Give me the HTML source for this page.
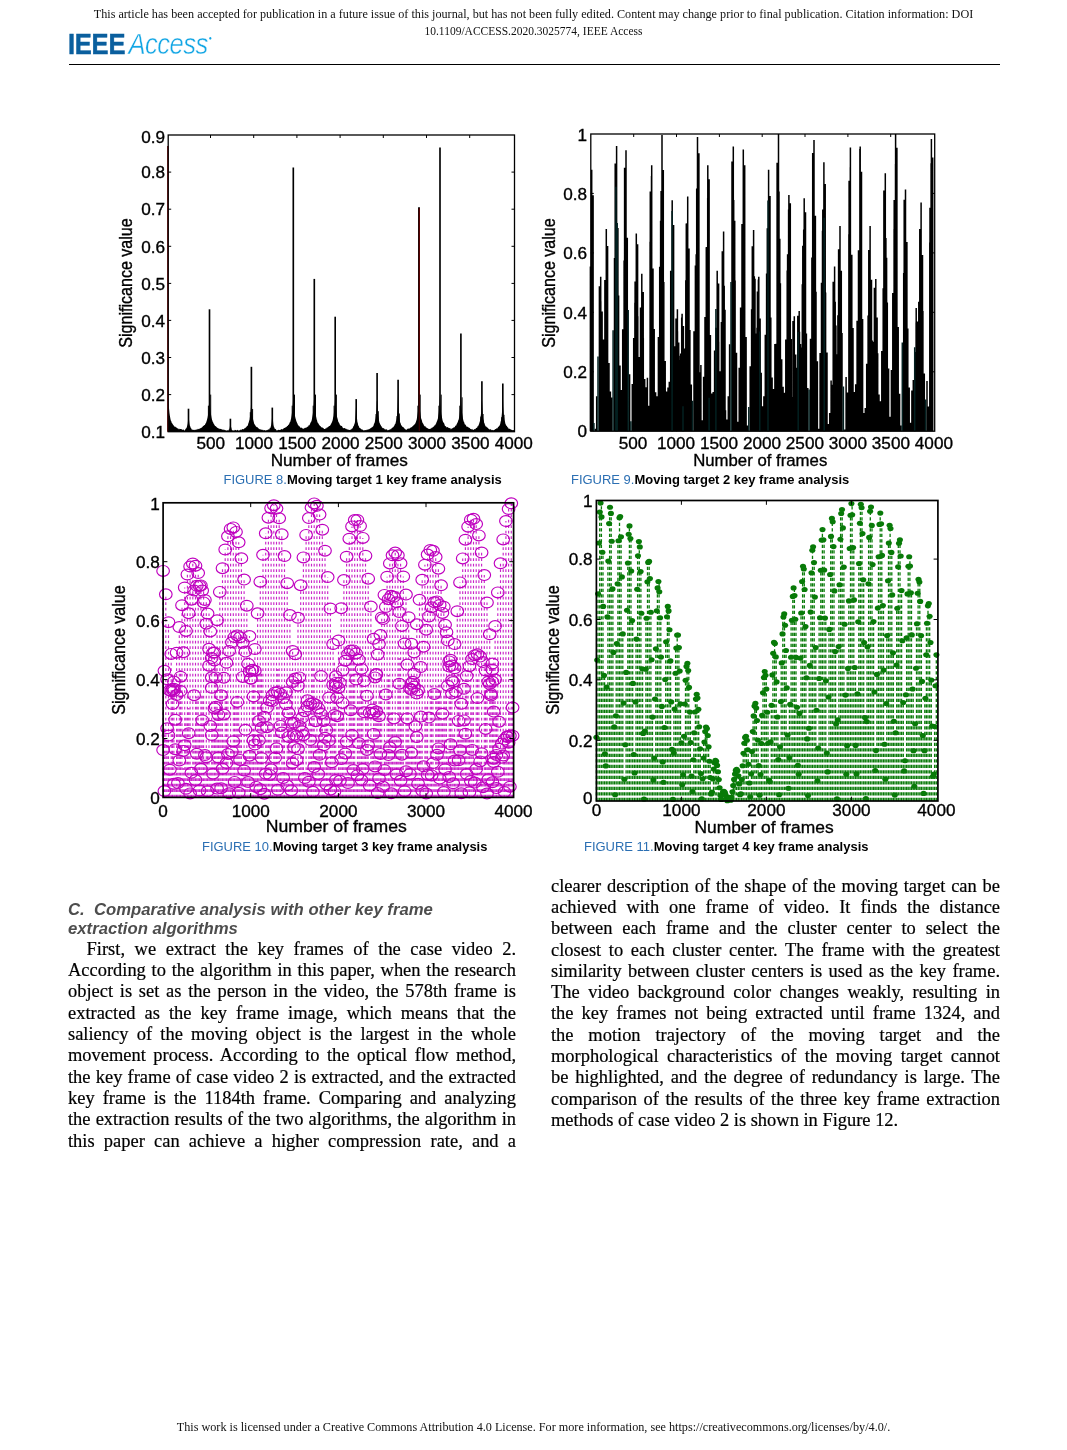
<!DOCTYPE html>
<html lang="en"><head><meta charset="utf-8"><title>IEEE Access</title>
<style>
html,body{margin:0;padding:0;background:#fff;}
body{width:1067px;height:1450px;position:relative;overflow:hidden;font-family:"Liberation Serif",serif;color:#000;}
.abs{position:absolute;white-space:nowrap;}
.hd{position:absolute;left:0;width:1067px;text-align:center;font-size:12.18px;line-height:14px;white-space:nowrap;color:#111;}
.bl{position:absolute;font-size:18.45px;line-height:21.2px;height:21.2px;white-space:nowrap;color:#000;-webkit-text-stroke:0.2px #000;}
.j{text-align:justify;text-align-last:justify;white-space:normal;}
.sec{position:absolute;left:68px;font:italic bold 16.72px/19.4px "Liberation Sans",sans-serif;color:#4d4d4d;white-space:nowrap;}
.cap{position:absolute;font:12.97px/15px "Liberation Sans",sans-serif;color:#2b6fb3;white-space:nowrap;}
.cap b{color:#000;}
svg text{font-family:"Liberation Sans",sans-serif;fill:#000;stroke:#000;stroke-width:0.32px;}
</style></head><body>
<div class="hd" style="top:6.5px;">This article has been accepted for publication in a future issue of this journal, but has not been fully edited. Content may change prior to final publication. Citation information: DOI</div>
<div class="hd" style="top:24px;font-size:11.5px;">10.1109/ACCESS.2020.3025774, IEEE Access</div>
<div class="abs" id="logo" style="left:67.6px;top:27.3px;font-family:'Liberation Sans',sans-serif;font-size:29.7px;line-height:34px;transform:scaleX(0.86);transform-origin:0 0;"><b style="color:#0a5f9e;-webkit-text-stroke:0.5px #0a5f9e;letter-spacing:-0.3px;">IEEE</b><i style="font-weight:normal;color:#10a5e4;margin-left:4px;letter-spacing:-0.6px;-webkit-text-stroke:0.45px #fff;">Access</i><span style="color:#10a5e4;font-size:6px;position:relative;top:-14px;left:1px;">&#9679;</span></div>
<div class="abs" style="left:69px;top:63.7px;width:931px;height:1.3px;background:#000;"></div>
<svg class="abs" style="left:0;top:0;" width="1067" height="870" viewBox="0 0 1067 870">
<path d="M168.2 431.7L168.2 392.5L168.6 402.9L169.1 409.3L169.5 413.2L169.9 416.1L170.4 418.8L170.8 420.6L171.2 421L171.7 422.7L172.1 423.6L172.5 423.5L173 424.8L173.4 424.9L173.8 425.8L174.3 426L174.7 427L175.1 426.8L175.6 426.8L176 427.5L176.4 427.5L176.9 427.8L177.3 428.7L177.7 428.1L178.2 428.5L178.6 429L179 429.4L179.5 428.6L179.9 429.2L180.3 429L180.8 429L181.2 429.3L181.6 429.1L182.1 429.8L182.5 429.5L182.9 430L183.4 429.5L183.8 429.6L184.2 430.6L184.6 430.4L185.1 429.9L185.5 428.7L185.9 428.8L186.4 427.9L186.8 427.3L187.2 425.8L187.7 423.8L188.1 419.9L188.5 409.9L189 419.6L189.4 423.2L189.8 425.6L190.3 426.6L190.7 427.7L191.1 428.2L191.6 429L192 430L192.4 429.6L192.9 429.7L193.3 429.7L193.7 430L194.2 429.8L194.6 430.2L195 429.5L195.5 429.7L195.9 429.9L196.3 430L196.8 429.1L197.2 428.8L197.6 429.7L198.1 428.8L198.5 429L198.9 429.2L199.4 428.9L199.8 428.2L200.2 427.9L200.7 428.6L201.1 427.7L201.5 428.1L202 427.1L202.4 427.2L202.8 426.3L203.3 425.8L203.7 425.9L204.1 424.9L204.6 425.2L205 424.8L205.4 423.5L205.9 423.3L206.3 422.1L206.7 420.7L207.2 418.9L207.6 417.5L208 415.1L208.5 410.6L208.9 406L209.3 396.8L209.8 399L210.2 407.2L210.6 411.9L211.1 415.1L211.5 417.4L211.9 419.3L212.4 420.8L212.8 421.9L213.2 422.5L213.7 423.8L214.1 424.6L214.5 424.8L215 425.9L215.4 426.3L215.8 425.9L216.2 426.8L216.7 427.1L217.1 427.9L217.5 427.8L218 427.8L218.4 428.7L218.8 428.2L219.3 428.4L219.7 429.2L220.1 428.7L220.6 429L221 428.9L221.4 429.4L221.9 429.1L222.3 429.2L222.7 430.1L223.2 430.2L223.6 429.6L224 429.3L224.5 430.2L224.9 430.1L225.3 430L225.8 430.4L226.2 430.4L226.6 430.4L227.1 430.4L227.5 430.1L227.9 430.4L228.4 430.4L228.8 429.6L229.2 429.6L229.7 427.7L230.1 424.9L230.5 422.1L231 426.8L231.4 428.1L231.8 429.7L232.3 430.4L232.7 430.3L233.1 430L233.6 430.7L234 430.4L234.4 430.4L234.9 429.8L235.3 430.3L235.7 429.8L236.2 430.6L236.6 430.4L237 430L237.5 429.8L237.9 430.3L238.3 430.5L238.8 430.6L239.2 430.2L239.6 430.5L240.1 429.7L240.5 429.6L240.9 430.2L241.4 429.9L241.8 429.2L242.2 429.2L242.7 428.9L243.1 429.2L243.5 429.3L244 428.9L244.4 428.1L244.8 428.4L245.3 428L245.7 427.6L246.1 427.2L246.6 426.8L247 425.7L247.4 425.9L247.8 425.4L248.3 423.5L248.7 422.4L249.1 420.9L249.6 419.7L250 416.6L250.4 412.8L250.9 407.6L251.3 395.6L251.7 403.3L252.2 411.1L252.6 415.7L253 418.9L253.5 421L253.9 422.6L254.3 424L254.8 424.4L255.2 425.5L255.6 425.6L256.1 427L256.5 426.5L256.9 427.2L257.4 427.2L257.8 427.6L258.2 427.9L258.7 428.5L259.1 429.3L259.5 428.7L260 429.5L260.4 429.6L260.8 429.3L261.3 429.6L261.7 429.9L262.1 429.4L262.6 429.9L263 430.3L263.4 430.5L263.9 429.8L264.3 430.2L264.7 429.9L265.2 430.4L265.6 430.6L266 430.2L266.5 429.9L266.9 430.6L267.3 429.9L267.8 429.7L268.2 429.6L268.6 429.3L269.1 429.8L269.5 428.7L269.9 427.8L270.4 427.9L270.8 426.5L271.2 424.9L271.7 421.8L272.1 416.2L272.5 414.3L273 420.7L273.4 424.7L273.8 426.5L274.3 427.6L274.7 428.5L275.1 429.2L275.6 428.7L276 429.2L276.4 430.4L276.9 430.2L277.3 430.3L277.7 430.3L278.2 430.1L278.6 429.7L279 429.7L279.4 429.9L279.9 430L280.3 429.7L280.7 429.8L281.2 429.2L281.6 428.9L282 429.2L282.5 429.4L282.9 429.1L283.3 428.7L283.8 428.3L284.2 427.9L284.6 428.1L285.1 427.4L285.5 427.4L285.9 427.3L286.4 427.1L286.8 426.6L287.2 426L287.7 425.9L288.1 425.1L288.5 424.8L289 424.4L289.4 423.3L289.8 422.2L290.3 421.8L290.7 420.1L291.1 418.4L291.6 415.8L292 412.8L292.4 409.3L292.9 402.5L293.3 391.9L293.7 403.2L294.2 409.2L294.6 413.7L295 415.9L295.5 418.2L295.9 419.6L296.3 421L296.8 422.2L297.2 423.1L297.6 424L298.1 425.2L298.5 425.2L298.9 426.3L299.4 426.6L299.8 426.3L300.2 427.4L300.7 427.7L301.1 428L301.5 427.3L302 428.3L302.4 428.7L302.8 428L303.3 429L303.7 428.4L304.1 428.4L304.6 428.1L305 427.8L305.4 428L305.9 427.5L306.3 428.1L306.7 427L307.2 427L307.6 426.5L308 426.8L308.5 425.7L308.9 425L309.3 425.4L309.8 424.5L310.2 423.6L310.6 422.4L311 422.1L311.5 420.9L311.9 419.3L312.3 417L312.8 414.3L313.2 411.1L313.6 405.9L314.1 397.4L314.5 399.6L314.9 407.1L315.4 412.3L315.8 415.1L316.2 417L316.7 419.5L317.1 420.6L317.5 422.4L318 422.8L318.4 423.5L318.8 424.3L319.3 425L319.7 425.6L320.1 425.9L320.6 426L321 427.2L321.4 427.6L321.9 427.1L322.3 427.2L322.7 427.9L323.2 428.2L323.6 428.1L324 428.9L324.5 428.9L324.9 429L325.3 428.4L325.8 428.6L326.2 428.5L326.6 427.7L327.1 427.2L327.5 427.7L327.9 426.9L328.4 427L328.8 426.1L329.2 426L329.7 425.9L330.1 425.5L330.5 425.1L331 424L331.4 423.3L331.8 422.6L332.3 421.3L332.7 419.9L333.1 417.7L333.6 416.1L334 412.1L334.4 408.2L334.9 401.2L335.3 395L335.7 404.1L336.2 409.8L336.6 413.9L337 416.7L337.5 418.5L337.9 419.9L338.3 421.7L338.8 422.4L339.2 423L339.6 424.2L340.1 425.1L340.5 425.7L340.9 425.6L341.4 426.1L341.8 426.1L342.2 426.6L342.6 427.6L343.1 427.9L343.5 428.1L343.9 428.4L344.4 428L344.8 428L345.2 428.2L345.7 429L346.1 428.5L346.5 429.3L347 429.3L347.4 429.1L347.8 429.9L348.3 430L348.7 429.3L349.1 430L349.6 430L350 429.7L350.4 429.4L350.9 429.9L351.3 429.3L351.7 428.8L352.2 428.4L352.6 428.2L353 427.2L353.5 426L353.9 425.7L354.3 424.2L354.8 422.9L355.2 419.9L355.6 414.5L356.1 404.6L356.5 411.1L356.9 417.6L357.4 421.9L357.8 423.1L358.2 425.3L358.7 425.9L359.1 426.7L359.5 427.9L360 428L360.4 428.4L360.8 428.6L361.3 429.5L361.7 429.2L362.1 429.2L362.6 429.8L363 430.1L363.4 430.6L363.9 430.2L364.3 430.4L364.7 430L365.2 430L365.6 430.1L366 430.5L366.5 429.8L366.9 429.7L367.3 430.1L367.8 429.2L368.2 429.3L368.6 429.7L369.1 428.6L369.5 429.3L369.9 428.9L370.4 428.2L370.8 428.1L371.2 427.8L371.7 427.4L372.1 427.2L372.5 426.9L372.9 426.5L373.4 425.9L373.8 424.4L374.2 423.4L374.7 422.4L375.1 420.6L375.5 418.8L376 415.8L376.4 410.7L376.8 401.4L377.3 399.7L377.7 409.3L378.1 415L378.6 417.8L379 420.6L379.4 422.4L379.9 423.6L380.3 424.5L380.7 425L381.2 426.2L381.6 426.2L382 427.5L382.5 427.7L382.9 428.3L383.3 428.6L383.8 428.1L384.2 428.4L384.6 429.2L385.1 429.4L385.5 429.4L385.9 429.2L386.4 429.2L386.8 429.5L387.2 429.8L387.7 430.4L388.1 430.1L388.5 430.2L389 429.7L389.4 429.5L389.8 429.7L390.3 429.5L390.7 428.7L391.1 429.3L391.6 428.2L392 427.8L392.4 427.4L392.9 427.7L393.3 427.1L393.7 426.6L394.2 425.9L394.6 424.8L395 424.3L395.5 423.6L395.9 421.6L396.3 420.2L396.8 417.4L397.2 413.2L397.6 407.1L398.1 391.9L398.5 406.4L398.9 413.5L399.4 417.5L399.8 420.2L400.2 422.4L400.7 423.4L401.1 425L401.5 425.4L402 425.9L402.4 426.7L402.8 427.1L403.3 427.1L403.7 427.5L404.1 428.7L404.5 428.2L405 428.7L405.4 429.5L405.8 429.4L406.3 429.7L406.7 429.8L407.1 429.2L407.6 428.6L408 429.1L408.4 428.4L408.9 428.4L409.3 428.9L409.7 427.9L410.2 428L410.6 427.4L411 427.4L411.5 427.1L411.9 427.2L412.3 426.4L412.8 425.9L413.2 425.5L413.6 425.6L414.1 424.7L414.5 424.4L414.9 424.1L415.4 423.3L415.8 422.3L416.2 420.9L416.7 419.4L417.1 417.1L417.5 414.4L418 411L418.4 405.9L418.8 397.1L419.3 399.6L419.7 407.1L420.1 411.6L420.6 415.3L421 417.9L421.4 419L421.9 420.6L422.3 422.2L422.7 423.1L423.2 423.8L423.6 424.4L424 425.4L424.5 426.1L424.9 426.4L425.3 426.1L425.8 427.2L426.2 427.2L426.6 427.7L427.1 428L427.5 428.3L427.9 428.2L428.4 428.7L428.8 429L429.2 429.1L429.7 429.1L430.1 428.5L430.5 428.8L431 428.7L431.4 428L431.8 427.8L432.3 427.2L432.7 427.7L433.1 427L433.6 426.6L434 426.6L434.4 425.2L434.9 425.5L435.3 425.1L435.7 424L436.1 423.5L436.6 422.1L437 421.3L437.4 420.1L437.9 418.5L438.3 415.4L438.7 412.9L439.2 407.8L439.6 401.3L440 394.4L440.5 404.7L440.9 410.4L441.3 414.2L441.8 416.3L442.2 418.6L442.6 420.5L443.1 422L443.5 422.4L443.9 423L444.4 424.1L444.8 425.4L445.2 425.9L445.7 426.3L446.1 426.6L446.5 427.2L447 427.5L447.4 427.1L447.8 427.1L448.3 428.1L448.7 427.5L449.1 428.3L449.6 428.1L450 428.1L450.4 428.3L450.9 429.4L451.3 429L451.7 428.4L452.2 427.9L452.6 428.6L453 428.1L453.5 427.3L453.9 427.8L454.3 427.2L454.8 426.9L455.2 426.1L455.6 425.4L456.1 425.7L456.5 424.5L456.9 423.8L457.4 422.8L457.8 422.1L458.2 420.5L458.7 419.6L459.1 417.5L459.5 415.1L460 410.6L460.4 405.1L460.8 395.4L461.3 402.2L461.7 408.7L462.1 413.3L462.6 416.2L463 418.8L463.4 420.4L463.9 422.1L464.3 422.6L464.7 424.3L465.2 424.5L465.6 424.8L466 425.5L466.5 426.6L466.9 426.8L467.3 426.5L467.7 427.1L468.2 427.1L468.6 427.4L469 428.1L469.5 427.8L469.9 428.2L470.3 428.9L470.8 429L471.2 429.5L471.6 429.3L472.1 428.8L472.5 429.8L472.9 429.4L473.4 430L473.8 429.8L474.2 429L474.7 429.3L475.1 429.2L475.5 428.9L476 428L476.4 427.8L476.8 428L477.3 427.3L477.7 426L478.1 426.2L478.6 425.1L479 424.3L479.4 422.7L479.9 421.3L480.3 419L480.7 416.2L481.2 411.7L481.6 402.7L482 400L482.5 409.6L482.9 415.9L483.3 419.3L483.8 420.6L484.2 423.1L484.6 423.5L485.1 425.4L485.5 425.8L485.9 426.7L486.4 426.6L486.8 427.3L487.2 427.6L487.7 427.8L488.1 428L488.5 428.9L489 428.8L489.4 429.2L489.8 429.8L490.3 429.1L490.7 429.6L491.1 429.5L491.6 430.3L492 430L492.4 430.2L492.9 429.8L493.3 430.4L493.7 430L494.2 429.7L494.6 430L495 429.3L495.5 428.9L495.9 429L496.3 428.5L496.8 428.3L497.2 428.4L497.6 427.9L498.1 426.8L498.5 427L498.9 426.3L499.3 426L499.8 425L500.2 424L500.6 421.8L501.1 420.2L501.5 417.4L501.9 413.2L502.4 406.8L502.8 391.7L503.2 406.8L503.7 413.9L504.1 417.3L504.5 420L505 421.8L505.4 423.7L505.8 424.4L506.3 425.7L506.7 425.7L507.1 426.4L507.6 427.5L508 427.2L508.4 428.4L508.9 428.8L509.3 428.4L509.7 429.1L510.2 429.1L510.6 429.2L511 430L511.5 429.4L511.9 430.1L512.3 430L512.8 430.2L513.2 429.9L513.6 429.9L514.1 430.5L514.5 430.7L514.5 431.7Z" fill="#000"/>
<line x1="167.9" y1="431.7" x2="167.9" y2="146.1" stroke="#7a0000" stroke-width="1.5"/>
<line x1="188.5" y1="431.7" x2="188.5" y2="408.7" stroke="#000" stroke-width="1.65"/>
<line x1="209.5" y1="431.7" x2="209.5" y2="309.3" stroke="#000" stroke-width="1.65"/>
<line x1="210.7" y1="431.7" x2="210.7" y2="394.6" stroke="#000" stroke-width="1"/>
<line x1="208.4" y1="431.7" x2="208.4" y2="405.7" stroke="#000" stroke-width="1"/>
<line x1="230.4" y1="431.7" x2="230.4" y2="418.7" stroke="#000" stroke-width="1.65"/>
<line x1="251.4" y1="431.7" x2="251.4" y2="366.8" stroke="#000" stroke-width="1.65"/>
<line x1="252.6" y1="431.7" x2="252.6" y2="409" stroke="#000" stroke-width="1"/>
<line x1="250.3" y1="431.7" x2="250.3" y2="412.2" stroke="#000" stroke-width="1"/>
<line x1="272.3" y1="431.7" x2="272.3" y2="407.6" stroke="#000" stroke-width="1.65"/>
<line x1="293.3" y1="431.7" x2="293.3" y2="167.6" stroke="#000" stroke-width="1.65"/>
<line x1="294.5" y1="431.7" x2="294.5" y2="394.6" stroke="#000" stroke-width="1"/>
<line x1="292.2" y1="431.7" x2="292.2" y2="405.7" stroke="#000" stroke-width="1"/>
<line x1="314.3" y1="431.7" x2="314.3" y2="278.9" stroke="#000" stroke-width="1.65"/>
<line x1="315.5" y1="431.7" x2="315.5" y2="394.6" stroke="#000" stroke-width="1"/>
<line x1="313.2" y1="431.7" x2="313.2" y2="405.7" stroke="#000" stroke-width="1"/>
<line x1="335.2" y1="431.7" x2="335.2" y2="316.7" stroke="#000" stroke-width="1.65"/>
<line x1="336.4" y1="431.7" x2="336.4" y2="394.6" stroke="#000" stroke-width="1"/>
<line x1="334.1" y1="431.7" x2="334.1" y2="405.7" stroke="#000" stroke-width="1"/>
<line x1="356.2" y1="431.7" x2="356.2" y2="399.1" stroke="#000" stroke-width="1.65"/>
<line x1="377.1" y1="431.7" x2="377.1" y2="373.1" stroke="#000" stroke-width="1.65"/>
<line x1="378.3" y1="431.7" x2="378.3" y2="411.2" stroke="#000" stroke-width="1"/>
<line x1="376" y1="431.7" x2="376" y2="414.1" stroke="#000" stroke-width="1"/>
<line x1="398.1" y1="431.7" x2="398.1" y2="379.8" stroke="#000" stroke-width="1.65"/>
<line x1="399.3" y1="431.7" x2="399.3" y2="413.5" stroke="#000" stroke-width="1"/>
<line x1="397" y1="431.7" x2="397" y2="416.1" stroke="#000" stroke-width="1"/>
<line x1="419" y1="431.7" x2="419" y2="207.3" stroke="#000" stroke-width="1.9"/>
<line x1="419.3" y1="431.7" x2="419.3" y2="208.3" stroke="#5c0000" stroke-width="1.3"/>
<line x1="420.2" y1="431.7" x2="420.2" y2="394.6" stroke="#000" stroke-width="1"/>
<line x1="417.9" y1="431.7" x2="417.9" y2="405.7" stroke="#000" stroke-width="1"/>
<line x1="440" y1="431.7" x2="440" y2="147.6" stroke="#000" stroke-width="1.65"/>
<line x1="441.2" y1="431.7" x2="441.2" y2="394.6" stroke="#000" stroke-width="1"/>
<line x1="438.9" y1="431.7" x2="438.9" y2="405.7" stroke="#000" stroke-width="1"/>
<line x1="460.9" y1="431.7" x2="460.9" y2="333.4" stroke="#000" stroke-width="1.65"/>
<line x1="462.1" y1="431.7" x2="462.1" y2="397.3" stroke="#000" stroke-width="1"/>
<line x1="459.8" y1="431.7" x2="459.8" y2="405.7" stroke="#000" stroke-width="1"/>
<line x1="481.9" y1="431.7" x2="481.9" y2="381.3" stroke="#000" stroke-width="1.65"/>
<line x1="483.1" y1="431.7" x2="483.1" y2="414" stroke="#000" stroke-width="1"/>
<line x1="480.8" y1="431.7" x2="480.8" y2="416.6" stroke="#000" stroke-width="1"/>
<line x1="502.8" y1="431.7" x2="502.8" y2="383.5" stroke="#000" stroke-width="1.65"/>
<line x1="504" y1="431.7" x2="504" y2="414.8" stroke="#000" stroke-width="1"/>
<line x1="501.7" y1="431.7" x2="501.7" y2="417.2" stroke="#000" stroke-width="1"/>
<rect x="168.2" y="135" width="346.3" height="296.7" fill="none" stroke="#000" stroke-width="1.3"/>
<path d="M210.5 431.7v-3M210.5 135v3M253.7 431.7v-3M253.7 135v3M296.9 431.7v-3M296.9 135v3M340.1 431.7v-3M340.1 135v3M383.3 431.7v-3M383.3 135v3M426.5 431.7v-3M426.5 135v3M469.7 431.7v-3M469.7 135v3M168.2 394.6h3M514.5 394.6h-3M168.2 357.5h3M514.5 357.5h-3M168.2 320.4h3M514.5 320.4h-3M168.2 283.4h3M514.5 283.4h-3M168.2 246.3h3M514.5 246.3h-3M168.2 209.2h3M514.5 209.2h-3M168.2 172.1h3M514.5 172.1h-3" stroke="#000" stroke-width="1" fill="none"/>
<text transform="translate(210.7 448.6) scale(1.1 1)" text-anchor="middle" font-size="15.6" >500</text>
<text transform="translate(254 448.6) scale(1.1 1)" text-anchor="middle" font-size="15.6" >1000</text>
<text transform="translate(297.3 448.6) scale(1.1 1)" text-anchor="middle" font-size="15.6" >1500</text>
<text transform="translate(340.6 448.6) scale(1.1 1)" text-anchor="middle" font-size="15.6" >2000</text>
<text transform="translate(383.8 448.6) scale(1.1 1)" text-anchor="middle" font-size="15.6" >2500</text>
<text transform="translate(427.1 448.6) scale(1.1 1)" text-anchor="middle" font-size="15.6" >3000</text>
<text transform="translate(470.4 448.6) scale(1.1 1)" text-anchor="middle" font-size="15.6" >3500</text>
<text transform="translate(513.7 448.6) scale(1.1 1)" text-anchor="middle" font-size="15.6" >4000</text>
<text transform="translate(165 437.9) scale(1.1 1)" text-anchor="end" font-size="15.6" >0.1</text>
<text transform="translate(165 400.8) scale(1.1 1)" text-anchor="end" font-size="15.6" >0.2</text>
<text transform="translate(165 363.7) scale(1.1 1)" text-anchor="end" font-size="15.6" >0.3</text>
<text transform="translate(165 326.6) scale(1.1 1)" text-anchor="end" font-size="15.6" >0.4</text>
<text transform="translate(165 289.6) scale(1.1 1)" text-anchor="end" font-size="15.6" >0.5</text>
<text transform="translate(165 252.5) scale(1.1 1)" text-anchor="end" font-size="15.6" >0.6</text>
<text transform="translate(165 215.4) scale(1.1 1)" text-anchor="end" font-size="15.6" >0.7</text>
<text transform="translate(165 178.3) scale(1.1 1)" text-anchor="end" font-size="15.6" >0.8</text>
<text transform="translate(165 142.8) scale(1.1 1)" text-anchor="end" font-size="15.6" >0.9</text>
<text transform="translate(339.2 466.2) scale(1.1 1)" text-anchor="middle" font-size="15.6" >Number of frames</text>
<text transform="translate(132 283) rotate(-90) scale(1.03 1.155)" text-anchor="middle" font-size="15.6" >Significance value</text>
<path d="M591.2 431.2V412.7M592.6 431.2V422.5M595.3 431.2V428.7M596.7 431.2V396.2M599.4 431.2V310.8M600.8 431.2V301.3M602.2 431.2V414.2M603.5 431.2V339.5M604.9 431.2V280M606.3 431.2V247.1M607.6 431.2V315.8M609 431.2V363M610.4 431.2V391.4M611.8 431.2V397.4M614.5 431.2V257.9M618.6 431.2V295.4M620 431.2V365.4M621.3 431.2V389.9M622.7 431.2V329.3M624.1 431.2V260.6M625.5 431.2V172.4M626.8 431.2V237.9M629.6 431.2V374.3M632.3 431.2V384M633.7 431.2V338M635.1 431.2V281.5M636.4 431.2V271.3M637.8 431.2V316.2M639.2 431.2V357M640.5 431.2V307.4M641.9 431.2V302.8M643.3 431.2V338.3M644.7 431.2V378.9M646 431.2V387.2M647.4 431.2V377.7M648.8 431.2V405.7M650.1 431.2V241.8M651.5 431.2V175.9M652.9 431.2V268.8M654.2 431.2V329.1M655.6 431.2V392.2M657 431.2V396.3M658.4 431.2V337.1M659.7 431.2V266.8M661.1 431.2V190.9M662.5 431.2V196.2M663.8 431.2V282.1M665.2 431.2V360.9M666.6 431.2V391.6M668 431.2V387.4M669.3 431.2V381.8M670.7 431.2V270.8M673.4 431.2V286.9M674.8 431.2V346.3M676.2 431.2V334.8M677.5 431.2V331.2M678.9 431.2V359.9M680.3 431.2V355.8M681.7 431.2V317.5M684.4 431.2V348.6M685.8 431.2V280.2M687.1 431.2V223.2M688.5 431.2V258.9M689.9 431.2V329.9M691.3 431.2V384.4M694 431.2V331.3M695.4 431.2V265.4M696.7 431.2V188.6M698.1 431.2V216M699.5 431.2V372.3M700.9 431.2V364.9M702.2 431.2V420.2M703.6 431.2V376.8M705 431.2V317M706.3 431.2V247.7M707.7 431.2V198.1M710.4 431.2V335M711.8 431.2V393.6M713.2 431.2V392M714.6 431.2V350.4M717.3 431.2V298.8M718.7 431.2V341.7M720 431.2V371.3M721.4 431.2V321.9M722.8 431.2V267.9M724.2 431.2V285.8M725.5 431.2V410.2M726.9 431.2V419.5M728.3 431.2V396.3M729.6 431.2V344.3M732.4 431.2V188.9M733.7 431.2V200M735.1 431.2V280.4M736.5 431.2V352.8M737.9 431.2V421.7M739.2 431.2V367.8M740.6 431.2V307.6M742 431.2V224M743.3 431.2V190.7M744.7 431.2V268.8M746.1 431.2V337.1M747.5 431.2V425.6M750.2 431.2V366.3M751.6 431.2V309.3M752.9 431.2V255.5M754.3 431.2V276.3M755.7 431.2V333.5M757 431.2V327.8M758.4 431.2V279.4M761.2 431.2V372.7M762.5 431.2V406.2M763.9 431.2V396.3M765.3 431.2V334.7M766.6 431.2V273.4M769.4 431.2V252M770.8 431.2V317.4M772.1 431.2V377.5M773.5 431.2V388.9M774.9 431.2V344M776.2 431.2V343.7M777.6 431.2V182.3M779 431.2V191.4M780.4 431.2V283.2M781.7 431.2V359.2M783.1 431.2V386.8M784.5 431.2V392.8M785.8 431.2V339.4M787.2 431.2V270.4M788.6 431.2V209.6M789.9 431.2V280.7M791.3 431.2V339.1M792.7 431.2V397.1M794.1 431.2V324.4M795.4 431.2V354.4M796.8 431.2V367.7M799.5 431.2V331.8M800.9 431.2V347.6M802.3 431.2V284.3M803.7 431.2V229.4M805 431.2V266.1M806.4 431.2V333.5M807.8 431.2V388.1M810.5 431.2V338.7M811.9 431.2V257.6M813.2 431.2V168.9M814.6 431.2V219M816 431.2V291.8M817.4 431.2V361.3M818.7 431.2V428.7M820.1 431.2V353.1M821.5 431.2V282.8M822.8 431.2V209.4M825.6 431.2V292.5M827 431.2V352.6M828.3 431.2V424.1M829.7 431.2V413.1M831.1 431.2V380.6M832.4 431.2V384.7M833.8 431.2V286.2M835.2 431.2V301.7M836.6 431.2V354.2M837.9 431.2V315.3M839.3 431.2V253.6M840.7 431.2V274.1M842 431.2V333.1M844.8 431.2V429.4M846.1 431.2V377M847.5 431.2V392.5M848.9 431.2V234.3M850.3 431.2V167.3M851.6 431.2V259.9M853 431.2V328M854.4 431.2V391.9M855.7 431.2V384.3M857.1 431.2V320.7M858.5 431.2V250.3M859.9 431.2V148.9M861.2 431.2V248.6M862.6 431.2V319M864 431.2V413.1M865.3 431.2V407.9M866.7 431.2V363.7M868.1 431.2V315.5M869.4 431.2V255M870.8 431.2V287.8M872.2 431.2V340.4M873.6 431.2V341.7M874.9 431.2V298.5M876.3 431.2V370.7M877.7 431.2V353.3M879 431.2V394.5M880.4 431.2V401.2M881.8 431.2V351M883.2 431.2V288.3M884.5 431.2V216.9M885.9 431.2V237.9M887.3 431.2V302.4M888.6 431.2V368.5M890 431.2V416.8M891.4 431.2V370.1M892.8 431.2V292.9M894.1 431.2V229M895.5 431.2V163.9M896.9 431.2V247.8M898.2 431.2V326.9M899.6 431.2V393.8M901 431.2V425.5M903.7 431.2V272.9M905.1 431.2V205.9M906.5 431.2V259M907.8 431.2V328.5M909.2 431.2V387.5M910.6 431.2V422.7M911.9 431.2V390.6M913.3 431.2V380.1M916.1 431.2V322.4M917.4 431.2V356.4M918.8 431.2V301.7M920.2 431.2V233.3M921.5 431.2V255.8M922.9 431.2V310.9M924.3 431.2V373.6M927 431.2V380.9M928.4 431.2V406.6M929.8 431.2V242.4M931.1 431.2V163.2M932.5 431.2V248.4M591.7 431.2V169.7M593.1 431.2V195.3M590.4 431.2V266.5M600.7 431.2V276.7M599.4 431.2V286.3M602.1 431.2V311.5M606.3 431.2V229.1M607.6 431.2V246M604.9 431.2V299.3M616.6 431.2V145.9M615.2 431.2V163.6M617.9 431.2V227.9M626 431.2V150.3M624.6 431.2V167.7M627.3 431.2V237.8M636.3 431.2V233.6M637.6 431.2V244.2M634.9 431.2V302.8M641.8 431.2V273.7M643.2 431.2V292M640.5 431.2V319.9M651.7 431.2V165.2M650.3 431.2V191.4M653 431.2V268.5M662 431.2V134.9M663.3 431.2V170.1M660.6 431.2V220.8M672.2 431.2V200.3M673.6 431.2V225M670.9 431.2V283.4M677.4 431.2V309.3M676 431.2V318.4M678.7 431.2V342.5M682.1 431.2V313.8M683.4 431.2V326M680.7 431.2V353.5M687.7 431.2V196.4M686.3 431.2V223.6M689 431.2V248.6M697.5 431.2V137M698.9 431.2V153.3M696.2 431.2V254.3M707.8 431.2V165.2M709.1 431.2V179.3M706.4 431.2V246.9M717.2 431.2V270.7M718.6 431.2V283.4M715.9 431.2V327.7M723.6 431.2V231.5M722.3 431.2V251.3M725 431.2V309.8M733.3 431.2V146.5M732 431.2V161.4M734.7 431.2V220.8M743.3 431.2V149.5M744.7 431.2V165.2M742 431.2V247.2M753.6 431.2V230M752.3 431.2V246.2M755 431.2V278.7M758.8 431.2V276.7M757.4 431.2V291.5M760.1 431.2V318.6M768.6 431.2V169.7M770 431.2V195.9M767.3 431.2V228.2M778.5 431.2V134M777.1 431.2V162.7M779.8 431.2V238.8M788.9 431.2V194.9M790.3 431.2V203.2M787.6 431.2V254.2M794.3 431.2V316.2M793 431.2V320.9M795.7 431.2V354.6M799.2 431.2V311.1M797.8 431.2V315.7M800.5 431.2V344M804.2 431.2V198.2M805.5 431.2V212.2M802.8 431.2V245.8M814 431.2V139.9M812.7 431.2V152.9M815.4 431.2V215.8M823.9 431.2V162.2M825.2 431.2V183.9M822.5 431.2V230.8M834.6 431.2V266.6M833.2 431.2V281.7M835.9 431.2V325.4M840 431.2V226.1M838.6 431.2V249.3M841.3 431.2V270.8M850.4 431.2V147.4M849.1 431.2V180.7M851.8 431.2V254.8M860.2 431.2V146.5M861.5 431.2V171.8M858.8 431.2V252.3M870.1 431.2V226.1M868.8 431.2V250M871.5 431.2V279.8M875.8 431.2V279M874.4 431.2V287.7M877.1 431.2V317.5M885.3 431.2V173.2M883.9 431.2V190.5M886.6 431.2V257.7M895.6 431.2V134M896.9 431.2V147.7M894.2 431.2V199.9M905.5 431.2V189.6M904.2 431.2V199.7M906.9 431.2V242M916.2 431.2V307.9M917.6 431.2V321.5M914.9 431.2V352.1M921.1 431.2V202.4M919.8 431.2V229.1M922.5 431.2V255.1M931.4 431.2V139.1M932.7 431.2V157.4M930 431.2V207.7" stroke="#000" stroke-width="1.5" fill="none"/>
<path d="M593.9 431.2V423M598 431.2V356.6M613.1 431.2V330.2M615.9 431.2V186.8M617.2 431.2V223M628.2 431.2V310M630.9 431.2V421.3M672.1 431.2V211.1M683 431.2V406.2M692.6 431.2V400.8M709.1 431.2V397.8M715.9 431.2V309M731 431.2V281.9M748.8 431.2V407M759.8 431.2V331.6M768 431.2V200.6M798.2 431.2V332M809.1 431.2V389.5M824.2 431.2V217.8M843.4 431.2V386.5M902.3 431.2V342.4M914.7 431.2V347.3M925.6 431.2V399.6" stroke="#032020" stroke-width="1.5" fill="none"/>
<rect x="590.8" y="134" width="343.9" height="297.2" fill="none" stroke="#000" stroke-width="1.3"/>
<path d="M633.7 431.2v-3M633.7 134v3M676.5 431.2v-3M676.5 134v3M719.4 431.2v-3M719.4 134v3M762.2 431.2v-3M762.2 134v3M805 431.2v-3M805 134v3M847.9 431.2v-3M847.9 134v3M890.7 431.2v-3M890.7 134v3M590.8 371.8h3M934.7 371.8h-3M590.8 312.3h3M934.7 312.3h-3M590.8 252.9h3M934.7 252.9h-3M590.8 193.4h3M934.7 193.4h-3" stroke="#000" stroke-width="1" fill="none"/>
<text transform="translate(633 448.6) scale(1.1 1)" text-anchor="middle" font-size="15.6" >500</text>
<text transform="translate(676 448.6) scale(1.1 1)" text-anchor="middle" font-size="15.6" >1000</text>
<text transform="translate(719 448.6) scale(1.1 1)" text-anchor="middle" font-size="15.6" >1500</text>
<text transform="translate(762 448.6) scale(1.1 1)" text-anchor="middle" font-size="15.6" >2000</text>
<text transform="translate(804.9 448.6) scale(1.1 1)" text-anchor="middle" font-size="15.6" >2500</text>
<text transform="translate(847.9 448.6) scale(1.1 1)" text-anchor="middle" font-size="15.6" >3000</text>
<text transform="translate(890.9 448.6) scale(1.1 1)" text-anchor="middle" font-size="15.6" >3500</text>
<text transform="translate(933.9 448.6) scale(1.1 1)" text-anchor="middle" font-size="15.6" >4000</text>
<text transform="translate(587 437.4) scale(1.1 1)" text-anchor="end" font-size="15.6" >0</text>
<text transform="translate(587 378) scale(1.1 1)" text-anchor="end" font-size="15.6" >0.2</text>
<text transform="translate(587 318.5) scale(1.1 1)" text-anchor="end" font-size="15.6" >0.4</text>
<text transform="translate(587 259.1) scale(1.1 1)" text-anchor="end" font-size="15.6" >0.6</text>
<text transform="translate(587 199.6) scale(1.1 1)" text-anchor="end" font-size="15.6" >0.8</text>
<text transform="translate(587 141) scale(1.1 1)" text-anchor="end" font-size="15.6" >1</text>
<text transform="translate(760.2 466.2) scale(1.075 1)" text-anchor="middle" font-size="15.6" >Number of frames</text>
<text transform="translate(554.5 283) rotate(-90) scale(1.03 1.155)" text-anchor="middle" font-size="15.6" >Significance value</text>
<path d="M163.1 797.4V570.9M164.4 797.4V727.1M165.8 797.4V594.3M167.1 797.4V737.7M168.5 797.4V622.2M169.8 797.4V762.8M171.2 797.4V653.9M172.5 797.4V674.6M173.9 797.4V681.6M175.2 797.4V773.6M176.6 797.4V652.7M177.9 797.4V722.2M179.3 797.4V627M180.6 797.4V670.2M182 797.4V605.2M183.3 797.4V768.1M184.7 797.4V587.5M186 797.4V715.8M187.4 797.4V574.5M188.7 797.4V707.9M190.1 797.4V566.5M191.4 797.4V771.3M192.8 797.4V563.5M194.1 797.4V737M195.5 797.4V565.7M196.8 797.4V696.6M198.2 797.4V573.1M199.5 797.4V728.4M200.9 797.4V585.4M202.2 797.4V693.7M203.6 797.4V590.6M204.9 797.4V761M206.3 797.4V600M207.6 797.4V752.8M209 797.4V613.6M210.3 797.4V765.4M211.7 797.4V631.4M213 797.4V721.8M214.4 797.4V652.4M215.7 797.4V666.7M217.1 797.4V620.2M218.4 797.4V711.2M219.8 797.4V591.9M221.1 797.4V687.2M222.5 797.4V568.2M223.8 797.4V736.5M225.2 797.4V549.5M226.5 797.4V690.9M227.9 797.4V536.3M229.2 797.4V766.2M230.6 797.4V528.9M231.9 797.4V747M233.3 797.4V527.4M234.6 797.4V700.4M236 797.4V531.9M237.3 797.4V693.6M238.7 797.4V542.3M240 797.4V732M241.4 797.4V558.3M242.7 797.4V767.5M244.1 797.4V579.6M245.4 797.4V749.7M246.8 797.4V605.7M248.1 797.4V755.7M249.5 797.4V636.1M250.8 797.4V748.1M252.2 797.4V669.8M253.5 797.4V682.4M254.9 797.4V649M256.2 797.4V756.8M257.6 797.4V613.3M258.9 797.4V671.9M260.3 797.4V581.7M261.6 797.4V672.8M263 797.4V554.8M264.3 797.4V770.2M265.7 797.4V533.3M267 797.4V737.1M268.4 797.4V517.7M269.7 797.4V723.6M271.1 797.4V508.2M272.4 797.4V772.5M273.8 797.4V505.2M275.1 797.4V731.7M276.5 797.4V508.6M277.8 797.4V669.1M279.2 797.4V518.3M280.5 797.4V765.3M281.8 797.4V534.3M283.2 797.4V710.4M284.5 797.4V556.1M285.9 797.4V764.5M287.2 797.4V583.2M288.6 797.4V712.7M289.9 797.4V615.1M291.3 797.4V670.6M292.6 797.4V651M294 797.4V756.4M295.3 797.4V654.3M296.7 797.4V773.5M298 797.4V617.8M299.4 797.4V767.8M300.7 797.4V585.2M302.1 797.4V717.6M303.4 797.4V557.4M304.8 797.4V772.9M306.1 797.4V534.9M307.5 797.4V767.7M308.8 797.4V518.1M310.2 797.4V722.9M311.5 797.4V507.6M312.9 797.4V667.1M314.2 797.4V503.4M315.6 797.4V732.2M316.9 797.4V505.8M318.3 797.4V734.8M319.6 797.4V514.6M321 797.4V705M322.3 797.4V529.7M323.7 797.4V767M325 797.4V550.7M326.4 797.4V712.6M327.7 797.4V577.1M329.1 797.4V759.5M330.4 797.4V608.5M331.8 797.4V708.9M333.1 797.4V644M334.5 797.4V661.9M335.8 797.4V676.3M337.2 797.4V770.3M338.5 797.4V640.5M339.9 797.4V715.7M341.2 797.4V608.2M342.6 797.4V709.2M343.9 797.4V580.1M345.3 797.4V761.8M346.6 797.4V556.7M348 797.4V749.5M349.3 797.4V538.7M350.7 797.4V656.7M352 797.4V526.4M353.4 797.4V656.3M354.7 797.4V520.1M356.1 797.4V764.5M357.4 797.4V520M358.8 797.4V696.3M360.1 797.4V526M361.5 797.4V662.9M362.8 797.4V537.9M364.2 797.4V752.9M365.5 797.4V555.7M366.9 797.4V708.6M368.2 797.4V578.7M369.6 797.4V771.1M370.9 797.4V606.6M372.3 797.4V738.6M373.6 797.4V638.8M375 797.4V700.4M376.3 797.4V654.6M377.7 797.4V711.2M379 797.4V635.1M380.4 797.4V687.1M381.7 797.4V617.5M383.1 797.4V767.6M384.4 797.4V594.9M385.8 797.4V740.7M387.1 797.4V576.7M388.5 797.4V674.9M389.8 797.4V563.4M391.2 797.4V712M392.5 797.4V555.3M393.9 797.4V728.5M395.2 797.4V552.6M396.6 797.4V734.3M397.9 797.4V555.3M399.2 797.4V658M400.6 797.4V563.3M401.9 797.4V713.2M403.3 797.4V576.5M404.6 797.4V772.9M406 797.4V594.6M407.3 797.4V683.8M408.7 797.4V617.2M410 797.4V742.8M411.4 797.4V643.7M412.7 797.4V730.6M414.1 797.4V652.4M415.4 797.4V755.4M416.8 797.4V624.2M418.1 797.4V729.4M419.5 797.4V599.8M420.8 797.4V743.3M422.2 797.4V579.8M423.5 797.4V767.4M424.9 797.4V564.7M426.2 797.4V706.2M427.6 797.4V554.6M428.9 797.4V766.1M430.3 797.4V550M431.6 797.4V685.8M433 797.4V550.8M434.3 797.4V772.4M435.7 797.4V557.1M437 797.4V686.3M438.4 797.4V568.7M439.7 797.4V682.7M441.1 797.4V585.3M442.4 797.4V722.9M443.8 797.4V606.7M445.1 797.4V695.8M446.5 797.4V624.8M447.8 797.4V751.7M449.2 797.4V640.6M450.5 797.4V692M451.9 797.4V659.8M453.2 797.4V731.6M454.6 797.4V644.1M455.9 797.4V753.5M457.3 797.4V611.2M458.6 797.4V661.1M460 797.4V582.4M461.3 797.4V734.5M462.7 797.4V558.4M464 797.4V737.7M465.4 797.4V539.7M466.7 797.4V675.5M468.1 797.4V526.7M469.4 797.4V738.2M470.8 797.4V519.7M472.1 797.4V701.3M473.5 797.4V518.8M474.8 797.4V759.7M476.2 797.4V524.1M477.5 797.4V677.8M478.9 797.4V535.4M480.2 797.4V750.5M481.6 797.4V552.5M482.9 797.4V770.6M484.3 797.4V575.1M485.6 797.4V659.5M487 797.4V602.5M488.3 797.4V759.5M489.7 797.4V634.3M491 797.4V663.5M492.4 797.4V663.5M493.7 797.4V657.9M495.1 797.4V626.1M496.4 797.4V709.2M497.8 797.4V592.4M499.1 797.4V773.3M500.5 797.4V563.3M501.8 797.4V769.7M503.2 797.4V539.4M504.5 797.4V755.9M505.9 797.4V521.1M507.2 797.4V735.9M508.6 797.4V509M509.9 797.4V708.5M511.3 797.4V503.3M512.6 797.4V660.7" stroke="#bf00bf" stroke-width="1.15" stroke-dasharray="2.7 2.8" fill="none" opacity="0.85"/>
<g fill="none" stroke="#bf00bf" stroke-width="1.15"><ellipse cx="163.1" cy="570.9" rx="6.3" ry="5.4"/><ellipse cx="165.8" cy="594.3" rx="6.3" ry="5.4"/><ellipse cx="168.5" cy="622.2" rx="6.3" ry="5.4"/><ellipse cx="171.2" cy="653.9" rx="6.3" ry="5.4"/><ellipse cx="173.9" cy="688.8" rx="6.3" ry="5.4"/><ellipse cx="173.9" cy="681.6" rx="6.3" ry="5.4"/><ellipse cx="176.6" cy="652.7" rx="6.3" ry="5.4"/><ellipse cx="179.3" cy="627" rx="6.3" ry="5.4"/><ellipse cx="182" cy="605.2" rx="6.3" ry="5.4"/><ellipse cx="184.7" cy="587.5" rx="6.3" ry="5.4"/><ellipse cx="187.4" cy="574.5" rx="6.3" ry="5.4"/><ellipse cx="190.1" cy="566.5" rx="6.3" ry="5.4"/><ellipse cx="192.8" cy="563.5" rx="6.3" ry="5.4"/><ellipse cx="195.5" cy="565.7" rx="6.3" ry="5.4"/><ellipse cx="198.2" cy="573.1" rx="6.3" ry="5.4"/><ellipse cx="200.9" cy="585.4" rx="6.3" ry="5.4"/><ellipse cx="203.6" cy="602.4" rx="6.3" ry="5.4"/><ellipse cx="206.3" cy="623.7" rx="6.3" ry="5.4"/><ellipse cx="209" cy="648.8" rx="6.3" ry="5.4"/><ellipse cx="211.7" cy="677.3" rx="6.3" ry="5.4"/><ellipse cx="214.4" cy="708.4" rx="6.3" ry="5.4"/><ellipse cx="211.7" cy="687.8" rx="6.3" ry="5.4"/><ellipse cx="214.4" cy="652.4" rx="6.3" ry="5.4"/><ellipse cx="217.1" cy="620.2" rx="6.3" ry="5.4"/><ellipse cx="219.8" cy="591.9" rx="6.3" ry="5.4"/><ellipse cx="222.5" cy="568.2" rx="6.3" ry="5.4"/><ellipse cx="225.2" cy="549.5" rx="6.3" ry="5.4"/><ellipse cx="227.9" cy="536.3" rx="6.3" ry="5.4"/><ellipse cx="230.6" cy="528.9" rx="6.3" ry="5.4"/><ellipse cx="233.3" cy="527.4" rx="6.3" ry="5.4"/><ellipse cx="236" cy="531.9" rx="6.3" ry="5.4"/><ellipse cx="238.7" cy="542.3" rx="6.3" ry="5.4"/><ellipse cx="241.4" cy="558.3" rx="6.3" ry="5.4"/><ellipse cx="244.1" cy="579.6" rx="6.3" ry="5.4"/><ellipse cx="246.8" cy="605.7" rx="6.3" ry="5.4"/><ellipse cx="249.5" cy="636.1" rx="6.3" ry="5.4"/><ellipse cx="252.2" cy="670" rx="6.3" ry="5.4"/><ellipse cx="254.9" cy="649" rx="6.3" ry="5.4"/><ellipse cx="257.6" cy="613.3" rx="6.3" ry="5.4"/><ellipse cx="260.3" cy="581.7" rx="6.3" ry="5.4"/><ellipse cx="263" cy="554.8" rx="6.3" ry="5.4"/><ellipse cx="265.7" cy="533.3" rx="6.3" ry="5.4"/><ellipse cx="268.4" cy="517.7" rx="6.3" ry="5.4"/><ellipse cx="271.1" cy="508.2" rx="6.3" ry="5.4"/><ellipse cx="273.8" cy="505.2" rx="6.3" ry="5.4"/><ellipse cx="276.5" cy="508.6" rx="6.3" ry="5.4"/><ellipse cx="279.2" cy="518.3" rx="6.3" ry="5.4"/><ellipse cx="281.8" cy="534.3" rx="6.3" ry="5.4"/><ellipse cx="284.5" cy="556.1" rx="6.3" ry="5.4"/><ellipse cx="287.2" cy="583.2" rx="6.3" ry="5.4"/><ellipse cx="289.9" cy="615.1" rx="6.3" ry="5.4"/><ellipse cx="292.6" cy="651" rx="6.3" ry="5.4"/><ellipse cx="295.3" cy="654.3" rx="6.3" ry="5.4"/><ellipse cx="298" cy="617.8" rx="6.3" ry="5.4"/><ellipse cx="300.7" cy="585.2" rx="6.3" ry="5.4"/><ellipse cx="303.4" cy="557.4" rx="6.3" ry="5.4"/><ellipse cx="306.1" cy="534.9" rx="6.3" ry="5.4"/><ellipse cx="308.8" cy="518.1" rx="6.3" ry="5.4"/><ellipse cx="311.5" cy="507.6" rx="6.3" ry="5.4"/><ellipse cx="314.2" cy="503.4" rx="6.3" ry="5.4"/><ellipse cx="316.9" cy="505.8" rx="6.3" ry="5.4"/><ellipse cx="319.6" cy="514.6" rx="6.3" ry="5.4"/><ellipse cx="322.3" cy="529.7" rx="6.3" ry="5.4"/><ellipse cx="325" cy="550.7" rx="6.3" ry="5.4"/><ellipse cx="327.7" cy="577.1" rx="6.3" ry="5.4"/><ellipse cx="330.4" cy="608.5" rx="6.3" ry="5.4"/><ellipse cx="333.1" cy="644" rx="6.3" ry="5.4"/><ellipse cx="335.8" cy="682.9" rx="6.3" ry="5.4"/><ellipse cx="335.8" cy="676.3" rx="6.3" ry="5.4"/><ellipse cx="338.5" cy="640.5" rx="6.3" ry="5.4"/><ellipse cx="341.2" cy="608.2" rx="6.3" ry="5.4"/><ellipse cx="343.9" cy="580.1" rx="6.3" ry="5.4"/><ellipse cx="346.6" cy="556.7" rx="6.3" ry="5.4"/><ellipse cx="349.3" cy="538.7" rx="6.3" ry="5.4"/><ellipse cx="352" cy="526.4" rx="6.3" ry="5.4"/><ellipse cx="354.7" cy="520.1" rx="6.3" ry="5.4"/><ellipse cx="357.4" cy="520" rx="6.3" ry="5.4"/><ellipse cx="360.1" cy="526" rx="6.3" ry="5.4"/><ellipse cx="362.8" cy="537.9" rx="6.3" ry="5.4"/><ellipse cx="365.5" cy="555.7" rx="6.3" ry="5.4"/><ellipse cx="368.2" cy="578.7" rx="6.3" ry="5.4"/><ellipse cx="370.9" cy="606.6" rx="6.3" ry="5.4"/><ellipse cx="373.6" cy="638.8" rx="6.3" ry="5.4"/><ellipse cx="376.3" cy="674.4" rx="6.3" ry="5.4"/><ellipse cx="376.3" cy="674.1" rx="6.3" ry="5.4"/><ellipse cx="379" cy="644.1" rx="6.3" ry="5.4"/><ellipse cx="381.7" cy="617.5" rx="6.3" ry="5.4"/><ellipse cx="384.4" cy="594.9" rx="6.3" ry="5.4"/><ellipse cx="387.1" cy="576.7" rx="6.3" ry="5.4"/><ellipse cx="389.8" cy="563.4" rx="6.3" ry="5.4"/><ellipse cx="392.5" cy="555.3" rx="6.3" ry="5.4"/><ellipse cx="395.2" cy="552.6" rx="6.3" ry="5.4"/><ellipse cx="397.9" cy="555.3" rx="6.3" ry="5.4"/><ellipse cx="400.6" cy="563.3" rx="6.3" ry="5.4"/><ellipse cx="403.3" cy="576.5" rx="6.3" ry="5.4"/><ellipse cx="406" cy="594.6" rx="6.3" ry="5.4"/><ellipse cx="408.7" cy="617.2" rx="6.3" ry="5.4"/><ellipse cx="411.4" cy="643.7" rx="6.3" ry="5.4"/><ellipse cx="414.1" cy="673.7" rx="6.3" ry="5.4"/><ellipse cx="411.4" cy="683.7" rx="6.3" ry="5.4"/><ellipse cx="414.1" cy="652.4" rx="6.3" ry="5.4"/><ellipse cx="416.8" cy="624.2" rx="6.3" ry="5.4"/><ellipse cx="419.5" cy="599.8" rx="6.3" ry="5.4"/><ellipse cx="422.2" cy="579.8" rx="6.3" ry="5.4"/><ellipse cx="424.9" cy="564.7" rx="6.3" ry="5.4"/><ellipse cx="427.6" cy="554.6" rx="6.3" ry="5.4"/><ellipse cx="430.3" cy="550" rx="6.3" ry="5.4"/><ellipse cx="433" cy="550.8" rx="6.3" ry="5.4"/><ellipse cx="435.7" cy="557.1" rx="6.3" ry="5.4"/><ellipse cx="438.4" cy="568.7" rx="6.3" ry="5.4"/><ellipse cx="441.1" cy="585.3" rx="6.3" ry="5.4"/><ellipse cx="443.8" cy="606.7" rx="6.3" ry="5.4"/><ellipse cx="446.5" cy="632.2" rx="6.3" ry="5.4"/><ellipse cx="449.2" cy="661.4" rx="6.3" ry="5.4"/><ellipse cx="451.9" cy="693.6" rx="6.3" ry="5.4"/><ellipse cx="451.9" cy="680.3" rx="6.3" ry="5.4"/><ellipse cx="454.6" cy="644.1" rx="6.3" ry="5.4"/><ellipse cx="457.3" cy="611.2" rx="6.3" ry="5.4"/><ellipse cx="460" cy="582.4" rx="6.3" ry="5.4"/><ellipse cx="462.7" cy="558.4" rx="6.3" ry="5.4"/><ellipse cx="465.4" cy="539.7" rx="6.3" ry="5.4"/><ellipse cx="468.1" cy="526.7" rx="6.3" ry="5.4"/><ellipse cx="470.8" cy="519.7" rx="6.3" ry="5.4"/><ellipse cx="473.5" cy="518.8" rx="6.3" ry="5.4"/><ellipse cx="476.2" cy="524.1" rx="6.3" ry="5.4"/><ellipse cx="478.9" cy="535.4" rx="6.3" ry="5.4"/><ellipse cx="481.6" cy="552.5" rx="6.3" ry="5.4"/><ellipse cx="484.3" cy="575.1" rx="6.3" ry="5.4"/><ellipse cx="487" cy="602.5" rx="6.3" ry="5.4"/><ellipse cx="489.7" cy="634.3" rx="6.3" ry="5.4"/><ellipse cx="492.4" cy="669.7" rx="6.3" ry="5.4"/><ellipse cx="492.4" cy="663.5" rx="6.3" ry="5.4"/><ellipse cx="495.1" cy="626.1" rx="6.3" ry="5.4"/><ellipse cx="497.8" cy="592.4" rx="6.3" ry="5.4"/><ellipse cx="500.5" cy="563.3" rx="6.3" ry="5.4"/><ellipse cx="503.2" cy="539.4" rx="6.3" ry="5.4"/><ellipse cx="505.9" cy="521.1" rx="6.3" ry="5.4"/><ellipse cx="508.6" cy="509" rx="6.3" ry="5.4"/><ellipse cx="511.3" cy="503.3" rx="6.3" ry="5.4"/><ellipse cx="164.4" cy="670.8" rx="6.3" ry="5.4"/><ellipse cx="167.1" cy="679.3" rx="6.3" ry="5.4"/><ellipse cx="169.8" cy="690.5" rx="6.3" ry="5.4"/><ellipse cx="172.5" cy="704.1" rx="6.3" ry="5.4"/><ellipse cx="175.2" cy="719.7" rx="6.3" ry="5.4"/><ellipse cx="180.6" cy="676.7" rx="6.3" ry="5.4"/><ellipse cx="183.3" cy="652.2" rx="6.3" ry="5.4"/><ellipse cx="186" cy="630.9" rx="6.3" ry="5.4"/><ellipse cx="188.7" cy="613.2" rx="6.3" ry="5.4"/><ellipse cx="191.4" cy="599.7" rx="6.3" ry="5.4"/><ellipse cx="194.1" cy="590.5" rx="6.3" ry="5.4"/><ellipse cx="196.8" cy="585.8" rx="6.3" ry="5.4"/><ellipse cx="199.5" cy="585.9" rx="6.3" ry="5.4"/><ellipse cx="202.2" cy="590.6" rx="6.3" ry="5.4"/><ellipse cx="204.9" cy="600" rx="6.3" ry="5.4"/><ellipse cx="207.6" cy="613.6" rx="6.3" ry="5.4"/><ellipse cx="210.3" cy="631.4" rx="6.3" ry="5.4"/><ellipse cx="213" cy="652.8" rx="6.3" ry="5.4"/><ellipse cx="215.7" cy="677.4" rx="6.3" ry="5.4"/><ellipse cx="218.4" cy="715" rx="6.3" ry="5.4"/><ellipse cx="221.1" cy="695.2" rx="6.3" ry="5.4"/><ellipse cx="223.8" cy="677.7" rx="6.3" ry="5.4"/><ellipse cx="226.5" cy="662.8" rx="6.3" ry="5.4"/><ellipse cx="229.2" cy="650.9" rx="6.3" ry="5.4"/><ellipse cx="231.9" cy="642.3" rx="6.3" ry="5.4"/><ellipse cx="234.6" cy="637" rx="6.3" ry="5.4"/><ellipse cx="237.3" cy="635.4" rx="6.3" ry="5.4"/><ellipse cx="240" cy="637.3" rx="6.3" ry="5.4"/><ellipse cx="242.7" cy="642.7" rx="6.3" ry="5.4"/><ellipse cx="245.4" cy="651.6" rx="6.3" ry="5.4"/><ellipse cx="248.1" cy="663.7" rx="6.3" ry="5.4"/><ellipse cx="250.8" cy="678.8" rx="6.3" ry="5.4"/><ellipse cx="253.5" cy="696.4" rx="6.3" ry="5.4"/><ellipse cx="258.9" cy="740.3" rx="6.3" ry="5.4"/><ellipse cx="261.6" cy="727.8" rx="6.3" ry="5.4"/><ellipse cx="264.3" cy="716.8" rx="6.3" ry="5.4"/><ellipse cx="267" cy="707.6" rx="6.3" ry="5.4"/><ellipse cx="269.7" cy="700.4" rx="6.3" ry="5.4"/><ellipse cx="272.4" cy="695.3" rx="6.3" ry="5.4"/><ellipse cx="275.1" cy="692.5" rx="6.3" ry="5.4"/><ellipse cx="277.8" cy="692" rx="6.3" ry="5.4"/><ellipse cx="280.5" cy="693.9" rx="6.3" ry="5.4"/><ellipse cx="283.2" cy="698" rx="6.3" ry="5.4"/><ellipse cx="285.9" cy="704.3" rx="6.3" ry="5.4"/><ellipse cx="288.6" cy="712.7" rx="6.3" ry="5.4"/><ellipse cx="291.3" cy="723" rx="6.3" ry="5.4"/><ellipse cx="294" cy="734.9" rx="6.3" ry="5.4"/><ellipse cx="294" cy="747.3" rx="6.3" ry="5.4"/><ellipse cx="296.7" cy="736.1" rx="6.3" ry="5.4"/><ellipse cx="299.4" cy="726.1" rx="6.3" ry="5.4"/><ellipse cx="302.1" cy="717.8" rx="6.3" ry="5.4"/><ellipse cx="304.8" cy="711.2" rx="6.3" ry="5.4"/><ellipse cx="307.5" cy="706.5" rx="6.3" ry="5.4"/><ellipse cx="310.2" cy="703.8" rx="6.3" ry="5.4"/><ellipse cx="312.9" cy="703.2" rx="6.3" ry="5.4"/><ellipse cx="315.6" cy="704.6" rx="6.3" ry="5.4"/><ellipse cx="318.3" cy="708.2" rx="6.3" ry="5.4"/><ellipse cx="321" cy="713.7" rx="6.3" ry="5.4"/><ellipse cx="323.7" cy="721" rx="6.3" ry="5.4"/><ellipse cx="326.4" cy="730.1" rx="6.3" ry="5.4"/><ellipse cx="329.1" cy="740.6" rx="6.3" ry="5.4"/><ellipse cx="334.5" cy="715" rx="6.3" ry="5.4"/><ellipse cx="337.2" cy="697.8" rx="6.3" ry="5.4"/><ellipse cx="339.9" cy="682.8" rx="6.3" ry="5.4"/><ellipse cx="342.6" cy="670.4" rx="6.3" ry="5.4"/><ellipse cx="345.3" cy="660.7" rx="6.3" ry="5.4"/><ellipse cx="348" cy="654.1" rx="6.3" ry="5.4"/><ellipse cx="350.7" cy="650.6" rx="6.3" ry="5.4"/><ellipse cx="353.4" cy="650.4" rx="6.3" ry="5.4"/><ellipse cx="356.1" cy="653.4" rx="6.3" ry="5.4"/><ellipse cx="358.8" cy="659.7" rx="6.3" ry="5.4"/><ellipse cx="361.5" cy="668.9" rx="6.3" ry="5.4"/><ellipse cx="364.2" cy="681.1" rx="6.3" ry="5.4"/><ellipse cx="366.9" cy="695.7" rx="6.3" ry="5.4"/><ellipse cx="369.6" cy="712.7" rx="6.3" ry="5.4"/><ellipse cx="375" cy="677.4" rx="6.3" ry="5.4"/><ellipse cx="377.7" cy="654.6" rx="6.3" ry="5.4"/><ellipse cx="380.4" cy="635.1" rx="6.3" ry="5.4"/><ellipse cx="383.1" cy="619.1" rx="6.3" ry="5.4"/><ellipse cx="385.8" cy="607" rx="6.3" ry="5.4"/><ellipse cx="388.5" cy="599.2" rx="6.3" ry="5.4"/><ellipse cx="391.2" cy="595.8" rx="6.3" ry="5.4"/><ellipse cx="393.9" cy="596.8" rx="6.3" ry="5.4"/><ellipse cx="396.6" cy="602.2" rx="6.3" ry="5.4"/><ellipse cx="399.2" cy="612" rx="6.3" ry="5.4"/><ellipse cx="401.9" cy="625.9" rx="6.3" ry="5.4"/><ellipse cx="404.6" cy="643.5" rx="6.3" ry="5.4"/><ellipse cx="407.3" cy="664.6" rx="6.3" ry="5.4"/><ellipse cx="410" cy="688.6" rx="6.3" ry="5.4"/><ellipse cx="418.1" cy="690.2" rx="6.3" ry="5.4"/><ellipse cx="420.8" cy="667" rx="6.3" ry="5.4"/><ellipse cx="423.5" cy="646.7" rx="6.3" ry="5.4"/><ellipse cx="426.2" cy="629.7" rx="6.3" ry="5.4"/><ellipse cx="428.9" cy="616.5" rx="6.3" ry="5.4"/><ellipse cx="431.6" cy="607.2" rx="6.3" ry="5.4"/><ellipse cx="434.3" cy="602.2" rx="6.3" ry="5.4"/><ellipse cx="437" cy="601.4" rx="6.3" ry="5.4"/><ellipse cx="439.7" cy="605" rx="6.3" ry="5.4"/><ellipse cx="442.4" cy="612.9" rx="6.3" ry="5.4"/><ellipse cx="445.1" cy="624.8" rx="6.3" ry="5.4"/><ellipse cx="447.8" cy="640.6" rx="6.3" ry="5.4"/><ellipse cx="450.5" cy="659.8" rx="6.3" ry="5.4"/><ellipse cx="453.2" cy="682.1" rx="6.3" ry="5.4"/><ellipse cx="458.6" cy="720.9" rx="6.3" ry="5.4"/><ellipse cx="461.3" cy="703.8" rx="6.3" ry="5.4"/><ellipse cx="464" cy="688.8" rx="6.3" ry="5.4"/><ellipse cx="466.7" cy="676.1" rx="6.3" ry="5.4"/><ellipse cx="469.4" cy="666.2" rx="6.3" ry="5.4"/><ellipse cx="472.1" cy="659.1" rx="6.3" ry="5.4"/><ellipse cx="474.8" cy="655.2" rx="6.3" ry="5.4"/><ellipse cx="477.5" cy="654.3" rx="6.3" ry="5.4"/><ellipse cx="480.2" cy="656.6" rx="6.3" ry="5.4"/><ellipse cx="482.9" cy="662.1" rx="6.3" ry="5.4"/><ellipse cx="485.6" cy="670.5" rx="6.3" ry="5.4"/><ellipse cx="488.3" cy="681.7" rx="6.3" ry="5.4"/><ellipse cx="491" cy="695.5" rx="6.3" ry="5.4"/><ellipse cx="493.7" cy="711.6" rx="6.3" ry="5.4"/><ellipse cx="493.7" cy="762" rx="6.3" ry="5.4"/><ellipse cx="496.4" cy="754.9" rx="6.3" ry="5.4"/><ellipse cx="499.1" cy="748.7" rx="6.3" ry="5.4"/><ellipse cx="501.8" cy="743.6" rx="6.3" ry="5.4"/><ellipse cx="504.5" cy="739.6" rx="6.3" ry="5.4"/><ellipse cx="507.2" cy="737" rx="6.3" ry="5.4"/><ellipse cx="509.9" cy="735.7" rx="6.3" ry="5.4"/><ellipse cx="512.6" cy="735.7" rx="6.3" ry="5.4"/><ellipse cx="164.4" cy="791.1" rx="6.3" ry="5.4"/><ellipse cx="167.1" cy="728.3" rx="6.3" ry="5.4"/><ellipse cx="169.8" cy="769.7" rx="6.3" ry="5.4"/><ellipse cx="172.5" cy="689.5" rx="6.3" ry="5.4"/><ellipse cx="175.2" cy="749.2" rx="6.3" ry="5.4"/><ellipse cx="177.9" cy="783.1" rx="6.3" ry="5.4"/><ellipse cx="180.6" cy="691" rx="6.3" ry="5.4"/><ellipse cx="183.3" cy="750.9" rx="6.3" ry="5.4"/><ellipse cx="186" cy="788.8" rx="6.3" ry="5.4"/><ellipse cx="188.7" cy="733.2" rx="6.3" ry="5.4"/><ellipse cx="191.4" cy="772.8" rx="6.3" ry="5.4"/><ellipse cx="194.1" cy="695.2" rx="6.3" ry="5.4"/><ellipse cx="196.8" cy="753.8" rx="6.3" ry="5.4"/><ellipse cx="199.5" cy="790.5" rx="6.3" ry="5.4"/><ellipse cx="202.2" cy="720.2" rx="6.3" ry="5.4"/><ellipse cx="204.9" cy="755" rx="6.3" ry="5.4"/><ellipse cx="207.6" cy="791.3" rx="6.3" ry="5.4"/><ellipse cx="210.3" cy="726.1" rx="6.3" ry="5.4"/><ellipse cx="213" cy="773.7" rx="6.3" ry="5.4"/><ellipse cx="215.7" cy="706.8" rx="6.3" ry="5.4"/><ellipse cx="218.4" cy="757.5" rx="6.3" ry="5.4"/><ellipse cx="221.1" cy="788.2" rx="6.3" ry="5.4"/><ellipse cx="223.8" cy="714.5" rx="6.3" ry="5.4"/><ellipse cx="226.5" cy="763.1" rx="6.3" ry="5.4"/><ellipse cx="229.2" cy="793.2" rx="6.3" ry="5.4"/><ellipse cx="231.9" cy="751.4" rx="6.3" ry="5.4"/><ellipse cx="234.6" cy="781.9" rx="6.3" ry="5.4"/><ellipse cx="237.3" cy="701.9" rx="6.3" ry="5.4"/><ellipse cx="240" cy="759.9" rx="6.3" ry="5.4"/><ellipse cx="242.7" cy="676.9" rx="6.3" ry="5.4"/><ellipse cx="245.4" cy="729.8" rx="6.3" ry="5.4"/><ellipse cx="248.1" cy="782.1" rx="6.3" ry="5.4"/><ellipse cx="250.8" cy="678.6" rx="6.3" ry="5.4"/><ellipse cx="253.5" cy="740.3" rx="6.3" ry="5.4"/><ellipse cx="256.2" cy="786.9" rx="6.3" ry="5.4"/><ellipse cx="258.9" cy="721.1" rx="6.3" ry="5.4"/><ellipse cx="261.6" cy="758" rx="6.3" ry="5.4"/><ellipse cx="264.3" cy="793.7" rx="6.3" ry="5.4"/><ellipse cx="267" cy="727.2" rx="6.3" ry="5.4"/><ellipse cx="269.7" cy="774.9" rx="6.3" ry="5.4"/><ellipse cx="272.4" cy="701.1" rx="6.3" ry="5.4"/><ellipse cx="275.1" cy="757.8" rx="6.3" ry="5.4"/><ellipse cx="277.8" cy="789.8" rx="6.3" ry="5.4"/><ellipse cx="280.5" cy="725.9" rx="6.3" ry="5.4"/><ellipse cx="283.2" cy="778" rx="6.3" ry="5.4"/><ellipse cx="285.9" cy="692.2" rx="6.3" ry="5.4"/><ellipse cx="288.6" cy="736.9" rx="6.3" ry="5.4"/><ellipse cx="291.3" cy="790.4" rx="6.3" ry="5.4"/><ellipse cx="294" cy="722.8" rx="6.3" ry="5.4"/><ellipse cx="296.7" cy="759.9" rx="6.3" ry="5.4"/><ellipse cx="299.4" cy="677.4" rx="6.3" ry="5.4"/><ellipse cx="302.1" cy="731.3" rx="6.3" ry="5.4"/><ellipse cx="304.8" cy="778" rx="6.3" ry="5.4"/><ellipse cx="307.5" cy="700.3" rx="6.3" ry="5.4"/><ellipse cx="310.2" cy="740" rx="6.3" ry="5.4"/><ellipse cx="312.9" cy="791.8" rx="6.3" ry="5.4"/><ellipse cx="315.6" cy="721.2" rx="6.3" ry="5.4"/><ellipse cx="318.3" cy="774.1" rx="6.3" ry="5.4"/><ellipse cx="321" cy="676.1" rx="6.3" ry="5.4"/><ellipse cx="323.7" cy="745.3" rx="6.3" ry="5.4"/><ellipse cx="326.4" cy="784.4" rx="6.3" ry="5.4"/><ellipse cx="329.1" cy="697.5" rx="6.3" ry="5.4"/><ellipse cx="331.8" cy="762.3" rx="6.3" ry="5.4"/><ellipse cx="334.5" cy="791.4" rx="6.3" ry="5.4"/><ellipse cx="337.2" cy="716.3" rx="6.3" ry="5.4"/><ellipse cx="339.9" cy="780.8" rx="6.3" ry="5.4"/><ellipse cx="342.6" cy="702.9" rx="6.3" ry="5.4"/><ellipse cx="345.3" cy="753.5" rx="6.3" ry="5.4"/><ellipse cx="348" cy="783" rx="6.3" ry="5.4"/><ellipse cx="350.7" cy="710.3" rx="6.3" ry="5.4"/><ellipse cx="353.4" cy="770" rx="6.3" ry="5.4"/><ellipse cx="356.1" cy="679.5" rx="6.3" ry="5.4"/><ellipse cx="358.8" cy="743.1" rx="6.3" ry="5.4"/><ellipse cx="361.5" cy="780.1" rx="6.3" ry="5.4"/><ellipse cx="364.2" cy="712.3" rx="6.3" ry="5.4"/><ellipse cx="366.9" cy="749.9" rx="6.3" ry="5.4"/><ellipse cx="369.6" cy="785.5" rx="6.3" ry="5.4"/><ellipse cx="372.3" cy="709.5" rx="6.3" ry="5.4"/><ellipse cx="375" cy="766.4" rx="6.3" ry="5.4"/><ellipse cx="377.7" cy="793" rx="6.3" ry="5.4"/><ellipse cx="380.4" cy="753.9" rx="6.3" ry="5.4"/><ellipse cx="383.1" cy="786.8" rx="6.3" ry="5.4"/><ellipse cx="385.8" cy="694.5" rx="6.3" ry="5.4"/><ellipse cx="388.5" cy="755.1" rx="6.3" ry="5.4"/><ellipse cx="391.2" cy="793.3" rx="6.3" ry="5.4"/><ellipse cx="393.9" cy="718.4" rx="6.3" ry="5.4"/><ellipse cx="396.6" cy="774.2" rx="6.3" ry="5.4"/><ellipse cx="399.2" cy="683.7" rx="6.3" ry="5.4"/><ellipse cx="401.9" cy="754.7" rx="6.3" ry="5.4"/><ellipse cx="404.6" cy="791.2" rx="6.3" ry="5.4"/><ellipse cx="407.3" cy="718.4" rx="6.3" ry="5.4"/><ellipse cx="410" cy="774" rx="6.3" ry="5.4"/><ellipse cx="412.7" cy="681.7" rx="6.3" ry="5.4"/><ellipse cx="415.4" cy="726.3" rx="6.3" ry="5.4"/><ellipse cx="418.1" cy="783.7" rx="6.3" ry="5.4"/><ellipse cx="420.8" cy="716.6" rx="6.3" ry="5.4"/><ellipse cx="423.5" cy="766.3" rx="6.3" ry="5.4"/><ellipse cx="426.2" cy="793.5" rx="6.3" ry="5.4"/><ellipse cx="428.9" cy="717.6" rx="6.3" ry="5.4"/><ellipse cx="431.6" cy="775.4" rx="6.3" ry="5.4"/><ellipse cx="434.3" cy="694" rx="6.3" ry="5.4"/><ellipse cx="437" cy="754.8" rx="6.3" ry="5.4"/><ellipse cx="439.7" cy="778.6" rx="6.3" ry="5.4"/><ellipse cx="442.4" cy="713.7" rx="6.3" ry="5.4"/><ellipse cx="445.1" cy="769.2" rx="6.3" ry="5.4"/><ellipse cx="447.8" cy="685.7" rx="6.3" ry="5.4"/><ellipse cx="450.5" cy="744.3" rx="6.3" ry="5.4"/><ellipse cx="453.2" cy="783.3" rx="6.3" ry="5.4"/><ellipse cx="455.9" cy="691.7" rx="6.3" ry="5.4"/><ellipse cx="458.6" cy="760.3" rx="6.3" ry="5.4"/><ellipse cx="461.3" cy="793.2" rx="6.3" ry="5.4"/><ellipse cx="464" cy="720.4" rx="6.3" ry="5.4"/><ellipse cx="466.7" cy="774.1" rx="6.3" ry="5.4"/><ellipse cx="469.4" cy="792.2" rx="6.3" ry="5.4"/><ellipse cx="472.1" cy="749.9" rx="6.3" ry="5.4"/><ellipse cx="474.8" cy="782.6" rx="6.3" ry="5.4"/><ellipse cx="477.5" cy="698" rx="6.3" ry="5.4"/><ellipse cx="480.2" cy="761.4" rx="6.3" ry="5.4"/><ellipse cx="482.9" cy="787.3" rx="6.3" ry="5.4"/><ellipse cx="485.6" cy="728.9" rx="6.3" ry="5.4"/><ellipse cx="488.3" cy="779.3" rx="6.3" ry="5.4"/><ellipse cx="491" cy="693.9" rx="6.3" ry="5.4"/><ellipse cx="493.7" cy="758.7" rx="6.3" ry="5.4"/><ellipse cx="496.4" cy="788.1" rx="6.3" ry="5.4"/><ellipse cx="499.1" cy="721.7" rx="6.3" ry="5.4"/><ellipse cx="501.8" cy="757.8" rx="6.3" ry="5.4"/><ellipse cx="504.5" cy="792.1" rx="6.3" ry="5.4"/><ellipse cx="507.2" cy="736.3" rx="6.3" ry="5.4"/><ellipse cx="509.9" cy="786.7" rx="6.3" ry="5.4"/><ellipse cx="512.6" cy="707.6" rx="6.3" ry="5.4"/><ellipse cx="163.1" cy="750.1" rx="6.3" ry="5.4"/><ellipse cx="168.5" cy="735.6" rx="6.3" ry="5.4"/><ellipse cx="173.9" cy="783.8" rx="6.3" ry="5.4"/><ellipse cx="179.3" cy="760.5" rx="6.3" ry="5.4"/><ellipse cx="184.7" cy="745.2" rx="6.3" ry="5.4"/><ellipse cx="190.1" cy="793.4" rx="6.3" ry="5.4"/><ellipse cx="195.5" cy="780.1" rx="6.3" ry="5.4"/><ellipse cx="200.9" cy="768.8" rx="6.3" ry="5.4"/><ellipse cx="206.3" cy="757.3" rx="6.3" ry="5.4"/><ellipse cx="211.7" cy="735" rx="6.3" ry="5.4"/><ellipse cx="217.1" cy="788.6" rx="6.3" ry="5.4"/><ellipse cx="222.5" cy="768.8" rx="6.3" ry="5.4"/><ellipse cx="227.9" cy="754" rx="6.3" ry="5.4"/><ellipse cx="233.3" cy="741.2" rx="6.3" ry="5.4"/><ellipse cx="238.7" cy="792.8" rx="6.3" ry="5.4"/><ellipse cx="244.1" cy="770.5" rx="6.3" ry="5.4"/><ellipse cx="249.5" cy="755.7" rx="6.3" ry="5.4"/><ellipse cx="254.9" cy="744.5" rx="6.3" ry="5.4"/><ellipse cx="260.3" cy="789.2" rx="6.3" ry="5.4"/><ellipse cx="265.7" cy="773.8" rx="6.3" ry="5.4"/><ellipse cx="271.1" cy="769.3" rx="6.3" ry="5.4"/><ellipse cx="276.5" cy="748.3" rx="6.3" ry="5.4"/><ellipse cx="281.8" cy="732.5" rx="6.3" ry="5.4"/><ellipse cx="287.2" cy="785.6" rx="6.3" ry="5.4"/><ellipse cx="292.6" cy="763.2" rx="6.3" ry="5.4"/><ellipse cx="298" cy="749.1" rx="6.3" ry="5.4"/><ellipse cx="303.4" cy="735.2" rx="6.3" ry="5.4"/><ellipse cx="308.8" cy="781.7" rx="6.3" ry="5.4"/><ellipse cx="314.2" cy="767.1" rx="6.3" ry="5.4"/><ellipse cx="319.6" cy="754.8" rx="6.3" ry="5.4"/><ellipse cx="325" cy="737.8" rx="6.3" ry="5.4"/><ellipse cx="330.4" cy="789.7" rx="6.3" ry="5.4"/><ellipse cx="335.8" cy="780" rx="6.3" ry="5.4"/><ellipse cx="341.2" cy="759.1" rx="6.3" ry="5.4"/><ellipse cx="346.6" cy="741.5" rx="6.3" ry="5.4"/><ellipse cx="352" cy="735" rx="6.3" ry="5.4"/><ellipse cx="357.4" cy="775.2" rx="6.3" ry="5.4"/><ellipse cx="362.8" cy="769.1" rx="6.3" ry="5.4"/><ellipse cx="368.2" cy="745.4" rx="6.3" ry="5.4"/><ellipse cx="373.6" cy="733.9" rx="6.3" ry="5.4"/><ellipse cx="379" cy="778.5" rx="6.3" ry="5.4"/><ellipse cx="384.4" cy="770" rx="6.3" ry="5.4"/><ellipse cx="389.8" cy="747.3" rx="6.3" ry="5.4"/><ellipse cx="395.2" cy="742.1" rx="6.3" ry="5.4"/><ellipse cx="400.6" cy="780.8" rx="6.3" ry="5.4"/><ellipse cx="406" cy="771.2" rx="6.3" ry="5.4"/><ellipse cx="411.4" cy="752.8" rx="6.3" ry="5.4"/><ellipse cx="416.8" cy="737.1" rx="6.3" ry="5.4"/><ellipse cx="422.2" cy="790.8" rx="6.3" ry="5.4"/><ellipse cx="427.6" cy="774.8" rx="6.3" ry="5.4"/><ellipse cx="433" cy="763.1" rx="6.3" ry="5.4"/><ellipse cx="438.4" cy="748.4" rx="6.3" ry="5.4"/><ellipse cx="443.8" cy="792.1" rx="6.3" ry="5.4"/><ellipse cx="449.2" cy="776.9" rx="6.3" ry="5.4"/><ellipse cx="454.6" cy="760.5" rx="6.3" ry="5.4"/><ellipse cx="460" cy="750.3" rx="6.3" ry="5.4"/><ellipse cx="465.4" cy="733.7" rx="6.3" ry="5.4"/><ellipse cx="470.8" cy="781" rx="6.3" ry="5.4"/><ellipse cx="476.2" cy="769.1" rx="6.3" ry="5.4"/><ellipse cx="481.6" cy="753.2" rx="6.3" ry="5.4"/><ellipse cx="487" cy="793.5" rx="6.3" ry="5.4"/><ellipse cx="492.4" cy="782.3" rx="6.3" ry="5.4"/><ellipse cx="497.8" cy="771.8" rx="6.3" ry="5.4"/><ellipse cx="503.2" cy="755.5" rx="6.3" ry="5.4"/><ellipse cx="508.6" cy="742.7" rx="6.3" ry="5.4"/><ellipse cx="171.2" cy="690.9" rx="6.3" ry="5.4"/><ellipse cx="173.9" cy="691" rx="6.3" ry="5.4"/><ellipse cx="176.6" cy="695.1" rx="6.3" ry="5.4"/><ellipse cx="209" cy="665.7" rx="6.3" ry="5.4"/><ellipse cx="211.7" cy="658.1" rx="6.3" ry="5.4"/><ellipse cx="214.4" cy="660.5" rx="6.3" ry="5.4"/><ellipse cx="249.5" cy="671.5" rx="6.3" ry="5.4"/><ellipse cx="252.2" cy="669.8" rx="6.3" ry="5.4"/><ellipse cx="254.9" cy="670.7" rx="6.3" ry="5.4"/><ellipse cx="292.6" cy="681.9" rx="6.3" ry="5.4"/><ellipse cx="295.3" cy="678.5" rx="6.3" ry="5.4"/><ellipse cx="298" cy="685.7" rx="6.3" ry="5.4"/><ellipse cx="333.1" cy="685" rx="6.3" ry="5.4"/><ellipse cx="335.8" cy="686.1" rx="6.3" ry="5.4"/><ellipse cx="338.5" cy="687.9" rx="6.3" ry="5.4"/><ellipse cx="373.6" cy="713.6" rx="6.3" ry="5.4"/><ellipse cx="376.3" cy="711.5" rx="6.3" ry="5.4"/><ellipse cx="379" cy="716.3" rx="6.3" ry="5.4"/><ellipse cx="411.4" cy="689.8" rx="6.3" ry="5.4"/><ellipse cx="414.1" cy="686.6" rx="6.3" ry="5.4"/><ellipse cx="416.8" cy="693.5" rx="6.3" ry="5.4"/><ellipse cx="449.2" cy="666.6" rx="6.3" ry="5.4"/><ellipse cx="451.9" cy="665.6" rx="6.3" ry="5.4"/><ellipse cx="454.6" cy="668.3" rx="6.3" ry="5.4"/><ellipse cx="489.7" cy="684.1" rx="6.3" ry="5.4"/><ellipse cx="492.4" cy="681.8" rx="6.3" ry="5.4"/><ellipse cx="495.1" cy="679.6" rx="6.3" ry="5.4"/></g>
<rect x="163.1" y="502.8" width="350.5" height="294.6" fill="none" stroke="#000" stroke-width="1.7"/>
<path d="M250.7 797.4v-4.3M250.7 502.8v4.3M338.4 797.4v-4.3M338.4 502.8v4.3M426 797.4v-4.3M426 502.8v4.3M163.1 738.5h4.3M513.6 738.5h-4.3M163.1 679.6h4.3M513.6 679.6h-4.3M163.1 620.6h4.3M513.6 620.6h-4.3M163.1 561.7h4.3M513.6 561.7h-4.3" stroke="#000" stroke-width="1" fill="none"/>
<text transform="translate(163.1 816.8) scale(1.1 1)" text-anchor="middle" font-size="15.6" >0</text>
<text transform="translate(250.7 816.8) scale(1.1 1)" text-anchor="middle" font-size="15.6" >1000</text>
<text transform="translate(338.4 816.8) scale(1.1 1)" text-anchor="middle" font-size="15.6" >2000</text>
<text transform="translate(426 816.8) scale(1.1 1)" text-anchor="middle" font-size="15.6" >3000</text>
<text transform="translate(513.6 816.8) scale(1.1 1)" text-anchor="middle" font-size="15.6" >4000</text>
<text transform="translate(159.8 803.6) scale(1.1 1)" text-anchor="end" font-size="15.6" >0</text>
<text transform="translate(159.8 744.7) scale(1.1 1)" text-anchor="end" font-size="15.6" >0.2</text>
<text transform="translate(159.8 685.8) scale(1.1 1)" text-anchor="end" font-size="15.6" >0.4</text>
<text transform="translate(159.8 626.8) scale(1.1 1)" text-anchor="end" font-size="15.6" >0.6</text>
<text transform="translate(159.8 567.9) scale(1.1 1)" text-anchor="end" font-size="15.6" >0.8</text>
<text transform="translate(159.8 509.8) scale(1.1 1)" text-anchor="end" font-size="15.6" >1</text>
<text transform="translate(336.3 831.8) scale(1.13 1)" text-anchor="middle" font-size="15.6" >Number of frames</text>
<text transform="translate(125 650) rotate(-90) scale(1.03 1.155)" text-anchor="middle" font-size="15.6" >Significance value</text>
<path d="M596.4 801V737.2M598 801V593.7M599.7 801V512.1M601.4 801V503.1M603 801V552.2M604.6 801V675.4M606.3 801V687M607.9 801V561.1M609.6 801V507.3M611.2 801V513.4M612.9 801V588.9M614.5 801V726.9M616.2 801V643.6M617.9 801V540.8M619.5 801V516.5M621.1 801V536.7M622.8 801V633.9M624.4 801V779.3M626.1 801V672.4M627.8 801V563M629.4 801V525.9M631 801V538.6M632.7 801V620.6M634.4 801V754.5M636 801V639.1M637.6 801V555.8M639.3 801V541.5M640.9 801V571.5M642.6 801V668.7M644.2 801V731M645.9 801V618.2M647.5 801V562.4M649.2 801V561.4M650.9 801V612.3M652.5 801V717.1M654.1 801V758.1M655.8 801V648.7M657.4 801V587.9M659.1 801V581.5M660.8 801V617.8M662.4 801V706.4M664 801V727.5M665.7 801V641.7M667.4 801V606.4M669 801V610.9M670.6 801V660.9M672.3 801V749.3M673.9 801V709.1M675.6 801V648.1M677.2 801V635M678.9 801V647.5M680.5 801V703.8M682.2 801V742.8M683.8 801V736.3M685.5 801V680.2M687.1 801V663.2M688.8 801V670.6M690.4 801V712.1M692.1 801V776M693.8 801V732.7M695.4 801V699M697 801V694.3M698.7 801V709.2M700.3 801V748.8M702 801V778.7M703.6 801V742M705.3 801V727.1M706.9 801V728.6M708.6 801V746.8M710.2 801V761.3M711.9 801V792.1M713.5 801V769M715.2 801V760.2M716.8 801V761.3M718.5 801V771.8M720.1 801V787.8M721.8 801V794.6M723.4 801V791.2M725.1 801V792.3M726.8 801V797.7M728.4 801V797.3M730 801V797.9M731.7 801V791.7M733.3 801V779.4M735 801V770.4M736.6 801V769.2M738.3 801V770.8M739.9 801V783.9M741.6 801V779.6M743.2 801V753.2M744.9 801V737.4M746.5 801V736.2M748.2 801V749.8M749.8 801V783M751.5 801V751.5M753.1 801V715.9M754.8 801V703.2M756.4 801V708M758.1 801V740.1M759.8 801V774.6M761.4 801V715.4M763 801V677.6M764.7 801V671.5M766.3 801V675.3M768 801V712.2M769.6 801V780M771.3 801V705.3M772.9 801V653.2M774.6 801V642.4M776.2 801V656.9M777.9 801V717M779.5 801V746.7M781.2 801V662.9M782.8 801V617M784.5 801V613.9M786.1 801V650.5M787.8 801V735M789.4 801V704.4M791.1 801V620.3M792.8 801V596.4M794.4 801V587.9M796 801V619.2M797.7 801V707.3M799.3 801V713.4M801 801V613M802.6 801V566.3M804.3 801V569M805.9 801V626.6M807.6 801V738.9M809.2 801V665.4M810.9 801V572.7M812.5 801V546.7M814.2 801V562.6M815.8 801V647.5M817.5 801V748M819.1 801V617.7M820.8 801V570.3M822.4 801V529.6M824.1 801V539.7M825.8 801V618.1M827.4 801V753M829 801V629.4M830.7 801V536.4M832.3 801V518.4M834 801V546.6M835.6 801V651.6M837.3 801V719.8M838.9 801V584.8M840.6 801V513.5M842.2 801V509.6M843.9 801V567M845.5 801V695.1M847.2 801V668.4M848.8 801V600.9M850.5 801V515.2M852.1 801V503.6M853.8 801V547.6M855.5 801V667.5M857.1 801V693.8M858.8 801V563.5M860.4 801V504.2M862 801V507.7M863.7 801V579.7M865.3 801V717.5M867 801V646.7M868.6 801V537.4M870.3 801V507.1M872 801V525.4M873.6 801V621.6M875.2 801V750.6M876.9 801V674.4M878.5 801V556.8M880.2 801V513.1M881.8 801V523.7M883.5 801V605.5M885.1 801V744.2M886.8 801V635.6M888.5 801V543.1M890.1 801V525.3M891.8 801V552.4M893.4 801V652.7M895 801V732.7M896.7 801V608.2M898.3 801V543.3M900 801V539.7M901.6 801V590.6M903.3 801V702.5M905 801V760.7M906.6 801V637.8M908.2 801V566.3M909.9 801V556.8M911.5 801V592.8M913.2 801V689M914.8 801V723.8M916.5 801V623.7M918.1 801V579.2M919.8 801V582M921.4 801V635.5M923.1 801V735.5M924.8 801V698.3M926.4 801V623.3M928 801V603.5M929.7 801V616.2M931.3 801V680.1M933 801V776.3M934.6 801V726.5M936.3 801V654.8" stroke="#087a08" stroke-width="1.3" stroke-dasharray="3.2 2.3" fill="none"/>
<g fill="#087a08"><ellipse cx="596.4" cy="737.2" rx="3.05" ry="2.55"/><ellipse cx="597.2" cy="660.1" rx="3.05" ry="2.55"/><ellipse cx="598.1" cy="593.7" rx="3.05" ry="2.55"/><ellipse cx="598.9" cy="543" rx="3.05" ry="2.55"/><ellipse cx="599.8" cy="512.1" rx="3.05" ry="2.55"/><ellipse cx="600.6" cy="503.1" rx="3.05" ry="2.55"/><ellipse cx="601.5" cy="516.9" rx="3.05" ry="2.55"/><ellipse cx="602.4" cy="552.2" rx="3.05" ry="2.55"/><ellipse cx="603.2" cy="606.4" rx="3.05" ry="2.55"/><ellipse cx="604" cy="675.4" rx="3.05" ry="2.55"/><ellipse cx="604.9" cy="753.7" rx="3.05" ry="2.55"/><ellipse cx="605.8" cy="765.9" rx="3.05" ry="2.55"/><ellipse cx="606.6" cy="687" rx="3.05" ry="2.55"/><ellipse cx="607.4" cy="616.9" rx="3.05" ry="2.55"/><ellipse cx="608.3" cy="561.1" rx="3.05" ry="2.55"/><ellipse cx="609.1" cy="523.6" rx="3.05" ry="2.55"/><ellipse cx="610" cy="507.3" rx="3.05" ry="2.55"/><ellipse cx="610.9" cy="513.4" rx="3.05" ry="2.55"/><ellipse cx="611.7" cy="541.3" rx="3.05" ry="2.55"/><ellipse cx="612.5" cy="588.9" rx="3.05" ry="2.55"/><ellipse cx="613.4" cy="652.4" rx="3.05" ry="2.55"/><ellipse cx="614.2" cy="726.9" rx="3.05" ry="2.55"/><ellipse cx="615.1" cy="794.7" rx="3.05" ry="2.55"/><ellipse cx="615.9" cy="715.7" rx="3.05" ry="2.55"/><ellipse cx="616.8" cy="643.6" rx="3.05" ry="2.55"/><ellipse cx="617.6" cy="583.8" rx="3.05" ry="2.55"/><ellipse cx="618.5" cy="540.8" rx="3.05" ry="2.55"/><ellipse cx="619.4" cy="517.8" rx="3.05" ry="2.55"/><ellipse cx="620.2" cy="516.5" rx="3.05" ry="2.55"/><ellipse cx="621" cy="536.7" rx="3.05" ry="2.55"/><ellipse cx="621.9" cy="576.9" rx="3.05" ry="2.55"/><ellipse cx="622.8" cy="633.9" rx="3.05" ry="2.55"/><ellipse cx="623.6" cy="703.1" rx="3.05" ry="2.55"/><ellipse cx="624.4" cy="779.3" rx="3.05" ry="2.55"/><ellipse cx="625.3" cy="744.8" rx="3.05" ry="2.55"/><ellipse cx="626.1" cy="672.4" rx="3.05" ry="2.55"/><ellipse cx="627" cy="610.2" rx="3.05" ry="2.55"/><ellipse cx="627.9" cy="563" rx="3.05" ry="2.55"/><ellipse cx="628.7" cy="534.2" rx="3.05" ry="2.55"/><ellipse cx="629.5" cy="525.9" rx="3.05" ry="2.55"/><ellipse cx="630.4" cy="538.6" rx="3.05" ry="2.55"/><ellipse cx="631.2" cy="571" rx="3.05" ry="2.55"/><ellipse cx="632.1" cy="620.6" rx="3.05" ry="2.55"/><ellipse cx="632.9" cy="683.4" rx="3.05" ry="2.55"/><ellipse cx="633.8" cy="754.5" rx="3.05" ry="2.55"/><ellipse cx="634.6" cy="773" rx="3.05" ry="2.55"/><ellipse cx="635.5" cy="701.9" rx="3.05" ry="2.55"/><ellipse cx="636.4" cy="639.1" rx="3.05" ry="2.55"/><ellipse cx="637.2" cy="589.2" rx="3.05" ry="2.55"/><ellipse cx="638" cy="555.8" rx="3.05" ry="2.55"/><ellipse cx="638.9" cy="541.5" rx="3.05" ry="2.55"/><ellipse cx="639.8" cy="546.9" rx="3.05" ry="2.55"/><ellipse cx="640.6" cy="571.5" rx="3.05" ry="2.55"/><ellipse cx="641.4" cy="613.2" rx="3.05" ry="2.55"/><ellipse cx="642.3" cy="668.7" rx="3.05" ry="2.55"/><ellipse cx="643.1" cy="733.4" rx="3.05" ry="2.55"/><ellipse cx="644" cy="799" rx="3.05" ry="2.55"/><ellipse cx="644.9" cy="731" rx="3.05" ry="2.55"/><ellipse cx="645.7" cy="669.2" rx="3.05" ry="2.55"/><ellipse cx="646.5" cy="618.2" rx="3.05" ry="2.55"/><ellipse cx="647.4" cy="581.7" rx="3.05" ry="2.55"/><ellipse cx="648.2" cy="562.4" rx="3.05" ry="2.55"/><ellipse cx="649.1" cy="561.4" rx="3.05" ry="2.55"/><ellipse cx="649.9" cy="578.5" rx="3.05" ry="2.55"/><ellipse cx="650.8" cy="612.3" rx="3.05" ry="2.55"/><ellipse cx="651.6" cy="659.7" rx="3.05" ry="2.55"/><ellipse cx="652.5" cy="717.1" rx="3.05" ry="2.55"/><ellipse cx="653.4" cy="779.9" rx="3.05" ry="2.55"/><ellipse cx="654.2" cy="758.1" rx="3.05" ry="2.55"/><ellipse cx="655" cy="699.1" rx="3.05" ry="2.55"/><ellipse cx="655.9" cy="648.7" rx="3.05" ry="2.55"/><ellipse cx="656.8" cy="610.8" rx="3.05" ry="2.55"/><ellipse cx="657.6" cy="587.9" rx="3.05" ry="2.55"/><ellipse cx="658.4" cy="581.5" rx="3.05" ry="2.55"/><ellipse cx="659.3" cy="591.8" rx="3.05" ry="2.55"/><ellipse cx="660.1" cy="617.8" rx="3.05" ry="2.55"/><ellipse cx="661" cy="657.1" rx="3.05" ry="2.55"/><ellipse cx="661.9" cy="706.4" rx="3.05" ry="2.55"/><ellipse cx="662.7" cy="762" rx="3.05" ry="2.55"/><ellipse cx="663.5" cy="782.2" rx="3.05" ry="2.55"/><ellipse cx="664.4" cy="727.5" rx="3.05" ry="2.55"/><ellipse cx="665.2" cy="679.5" rx="3.05" ry="2.55"/><ellipse cx="666.1" cy="641.7" rx="3.05" ry="2.55"/><ellipse cx="667" cy="616.8" rx="3.05" ry="2.55"/><ellipse cx="667.8" cy="606.4" rx="3.05" ry="2.55"/><ellipse cx="668.6" cy="610.9" rx="3.05" ry="2.55"/><ellipse cx="669.5" cy="629.7" rx="3.05" ry="2.55"/><ellipse cx="670.4" cy="660.9" rx="3.05" ry="2.55"/><ellipse cx="671.2" cy="701.9" rx="3.05" ry="2.55"/><ellipse cx="672" cy="749.3" rx="3.05" ry="2.55"/><ellipse cx="672.9" cy="799.4" rx="3.05" ry="2.55"/><ellipse cx="673.8" cy="753.1" rx="3.05" ry="2.55"/><ellipse cx="674.6" cy="709.1" rx="3.05" ry="2.55"/><ellipse cx="675.5" cy="673.3" rx="3.05" ry="2.55"/><ellipse cx="676.3" cy="648.1" rx="3.05" ry="2.55"/><ellipse cx="677.1" cy="635.1" rx="3.05" ry="2.55"/><ellipse cx="678" cy="635" rx="3.05" ry="2.55"/><ellipse cx="678.9" cy="647.5" rx="3.05" ry="2.55"/><ellipse cx="679.7" cy="671.1" rx="3.05" ry="2.55"/><ellipse cx="680.5" cy="703.8" rx="3.05" ry="2.55"/><ellipse cx="681.4" cy="742.8" rx="3.05" ry="2.55"/><ellipse cx="682.2" cy="784.8" rx="3.05" ry="2.55"/><ellipse cx="683.1" cy="774.7" rx="3.05" ry="2.55"/><ellipse cx="684" cy="736.3" rx="3.05" ry="2.55"/><ellipse cx="684.8" cy="704" rx="3.05" ry="2.55"/><ellipse cx="685.6" cy="680.2" rx="3.05" ry="2.55"/><ellipse cx="686.5" cy="666.4" rx="3.05" ry="2.55"/><ellipse cx="687.4" cy="663.2" rx="3.05" ry="2.55"/><ellipse cx="688.2" cy="670.6" rx="3.05" ry="2.55"/><ellipse cx="689" cy="687.4" rx="3.05" ry="2.55"/><ellipse cx="689.9" cy="712.1" rx="3.05" ry="2.55"/><ellipse cx="690.8" cy="742.5" rx="3.05" ry="2.55"/><ellipse cx="691.6" cy="776" rx="3.05" ry="2.55"/><ellipse cx="692.5" cy="791.5" rx="3.05" ry="2.55"/><ellipse cx="693.3" cy="759.8" rx="3.05" ry="2.55"/><ellipse cx="694.1" cy="732.7" rx="3.05" ry="2.55"/><ellipse cx="695" cy="712" rx="3.05" ry="2.55"/><ellipse cx="695.9" cy="699" rx="3.05" ry="2.55"/><ellipse cx="696.7" cy="694.3" rx="3.05" ry="2.55"/><ellipse cx="697.5" cy="698" rx="3.05" ry="2.55"/><ellipse cx="698.4" cy="709.2" rx="3.05" ry="2.55"/><ellipse cx="699.2" cy="726.7" rx="3.05" ry="2.55"/><ellipse cx="700.1" cy="748.8" rx="3.05" ry="2.55"/><ellipse cx="701" cy="773.5" rx="3.05" ry="2.55"/><ellipse cx="701.8" cy="798.8" rx="3.05" ry="2.55"/><ellipse cx="702.6" cy="778.7" rx="3.05" ry="2.55"/><ellipse cx="703.5" cy="758" rx="3.05" ry="2.55"/><ellipse cx="704.4" cy="742" rx="3.05" ry="2.55"/><ellipse cx="705.2" cy="731.6" rx="3.05" ry="2.55"/><ellipse cx="706" cy="727.1" rx="3.05" ry="2.55"/><ellipse cx="706.9" cy="728.6" rx="3.05" ry="2.55"/><ellipse cx="707.8" cy="735.5" rx="3.05" ry="2.55"/><ellipse cx="708.6" cy="746.8" rx="3.05" ry="2.55"/><ellipse cx="709.5" cy="761.3" rx="3.05" ry="2.55"/><ellipse cx="710.3" cy="777.5" rx="3.05" ry="2.55"/><ellipse cx="711.1" cy="794" rx="3.05" ry="2.55"/><ellipse cx="712" cy="792.1" rx="3.05" ry="2.55"/><ellipse cx="712.9" cy="779" rx="3.05" ry="2.55"/><ellipse cx="713.7" cy="769" rx="3.05" ry="2.55"/><ellipse cx="714.5" cy="762.7" rx="3.05" ry="2.55"/><ellipse cx="715.4" cy="760.2" rx="3.05" ry="2.55"/><ellipse cx="716.2" cy="761.3" rx="3.05" ry="2.55"/><ellipse cx="717.1" cy="765.4" rx="3.05" ry="2.55"/><ellipse cx="718" cy="771.8" rx="3.05" ry="2.55"/><ellipse cx="718.8" cy="779.6" rx="3.05" ry="2.55"/><ellipse cx="719.6" cy="787.8" rx="3.05" ry="2.55"/><ellipse cx="720.5" cy="795.5" rx="3.05" ry="2.55"/><ellipse cx="721.4" cy="799.4" rx="3.05" ry="2.55"/><ellipse cx="722.2" cy="794.6" rx="3.05" ry="2.55"/><ellipse cx="723" cy="791.9" rx="3.05" ry="2.55"/><ellipse cx="723.9" cy="791.2" rx="3.05" ry="2.55"/><ellipse cx="724.8" cy="792.3" rx="3.05" ry="2.55"/><ellipse cx="725.6" cy="794.7" rx="3.05" ry="2.55"/><ellipse cx="726.5" cy="797.7" rx="3.05" ry="2.55"/><ellipse cx="727.3" cy="800.7" rx="3.05" ry="2.55"/><ellipse cx="728.1" cy="798.4" rx="3.05" ry="2.55"/><ellipse cx="729" cy="797.3" rx="3.05" ry="2.55"/><ellipse cx="729.9" cy="797.9" rx="3.05" ry="2.55"/><ellipse cx="730.7" cy="800.3" rx="3.05" ry="2.55"/><ellipse cx="731.5" cy="797.1" rx="3.05" ry="2.55"/><ellipse cx="732.4" cy="791.7" rx="3.05" ry="2.55"/><ellipse cx="733.2" cy="785.5" rx="3.05" ry="2.55"/><ellipse cx="734.1" cy="779.4" rx="3.05" ry="2.55"/><ellipse cx="735" cy="774" rx="3.05" ry="2.55"/><ellipse cx="735.8" cy="770.4" rx="3.05" ry="2.55"/><ellipse cx="736.6" cy="769.2" rx="3.05" ry="2.55"/><ellipse cx="737.5" cy="770.8" rx="3.05" ry="2.55"/><ellipse cx="738.4" cy="775.8" rx="3.05" ry="2.55"/><ellipse cx="739.2" cy="783.9" rx="3.05" ry="2.55"/><ellipse cx="740" cy="794.7" rx="3.05" ry="2.55"/><ellipse cx="740.9" cy="793.7" rx="3.05" ry="2.55"/><ellipse cx="741.8" cy="779.6" rx="3.05" ry="2.55"/><ellipse cx="742.6" cy="765.7" rx="3.05" ry="2.55"/><ellipse cx="743.5" cy="753.2" rx="3.05" ry="2.55"/><ellipse cx="744.3" cy="743.3" rx="3.05" ry="2.55"/><ellipse cx="745.1" cy="737.4" rx="3.05" ry="2.55"/><ellipse cx="746" cy="736.2" rx="3.05" ry="2.55"/><ellipse cx="746.9" cy="740.3" rx="3.05" ry="2.55"/><ellipse cx="747.7" cy="749.8" rx="3.05" ry="2.55"/><ellipse cx="748.5" cy="764.3" rx="3.05" ry="2.55"/><ellipse cx="749.4" cy="783" rx="3.05" ry="2.55"/><ellipse cx="750.2" cy="796.8" rx="3.05" ry="2.55"/><ellipse cx="751.1" cy="773.9" rx="3.05" ry="2.55"/><ellipse cx="752" cy="751.5" rx="3.05" ry="2.55"/><ellipse cx="752.8" cy="731.6" rx="3.05" ry="2.55"/><ellipse cx="753.6" cy="715.9" rx="3.05" ry="2.55"/><ellipse cx="754.5" cy="706" rx="3.05" ry="2.55"/><ellipse cx="755.4" cy="703.2" rx="3.05" ry="2.55"/><ellipse cx="756.2" cy="708" rx="3.05" ry="2.55"/><ellipse cx="757" cy="720.5" rx="3.05" ry="2.55"/><ellipse cx="757.9" cy="740.1" rx="3.05" ry="2.55"/><ellipse cx="758.8" cy="765.6" rx="3.05" ry="2.55"/><ellipse cx="759.6" cy="795.2" rx="3.05" ry="2.55"/><ellipse cx="760.5" cy="774.6" rx="3.05" ry="2.55"/><ellipse cx="761.3" cy="743.5" rx="3.05" ry="2.55"/><ellipse cx="762.1" cy="715.4" rx="3.05" ry="2.55"/><ellipse cx="763" cy="692.8" rx="3.05" ry="2.55"/><ellipse cx="763.9" cy="677.6" rx="3.05" ry="2.55"/><ellipse cx="764.7" cy="671.5" rx="3.05" ry="2.55"/><ellipse cx="765.5" cy="675.3" rx="3.05" ry="2.55"/><ellipse cx="766.4" cy="689.1" rx="3.05" ry="2.55"/><ellipse cx="767.2" cy="712.2" rx="3.05" ry="2.55"/><ellipse cx="768.1" cy="743.3" rx="3.05" ry="2.55"/><ellipse cx="769" cy="780" rx="3.05" ry="2.55"/><ellipse cx="769.8" cy="781.6" rx="3.05" ry="2.55"/><ellipse cx="770.6" cy="741.9" rx="3.05" ry="2.55"/><ellipse cx="771.5" cy="705.3" rx="3.05" ry="2.55"/><ellipse cx="772.4" cy="674.9" rx="3.05" ry="2.55"/><ellipse cx="773.2" cy="653.2" rx="3.05" ry="2.55"/><ellipse cx="774" cy="642.4" rx="3.05" ry="2.55"/><ellipse cx="774.9" cy="643.5" rx="3.05" ry="2.55"/><ellipse cx="775.8" cy="656.9" rx="3.05" ry="2.55"/><ellipse cx="776.6" cy="681.9" rx="3.05" ry="2.55"/><ellipse cx="777.5" cy="717" rx="3.05" ry="2.55"/><ellipse cx="778.3" cy="759.6" rx="3.05" ry="2.55"/><ellipse cx="779.1" cy="794.7" rx="3.05" ry="2.55"/><ellipse cx="780" cy="746.7" rx="3.05" ry="2.55"/><ellipse cx="780.9" cy="701.6" rx="3.05" ry="2.55"/><ellipse cx="781.7" cy="662.9" rx="3.05" ry="2.55"/><ellipse cx="782.5" cy="633.9" rx="3.05" ry="2.55"/><ellipse cx="783.4" cy="617" rx="3.05" ry="2.55"/><ellipse cx="784.2" cy="613.9" rx="3.05" ry="2.55"/><ellipse cx="785.1" cy="625.3" rx="3.05" ry="2.55"/><ellipse cx="786" cy="650.5" rx="3.05" ry="2.55"/><ellipse cx="786.8" cy="687.9" rx="3.05" ry="2.55"/><ellipse cx="787.6" cy="735" rx="3.05" ry="2.55"/><ellipse cx="788.5" cy="788.3" rx="3.05" ry="2.55"/><ellipse cx="789.4" cy="757.7" rx="3.05" ry="2.55"/><ellipse cx="790.2" cy="704.4" rx="3.05" ry="2.55"/><ellipse cx="791" cy="657.3" rx="3.05" ry="2.55"/><ellipse cx="791.9" cy="620.3" rx="3.05" ry="2.55"/><ellipse cx="792.8" cy="596.4" rx="3.05" ry="2.55"/><ellipse cx="793.6" cy="587.9" rx="3.05" ry="2.55"/><ellipse cx="794.5" cy="595.6" rx="3.05" ry="2.55"/><ellipse cx="795.3" cy="619.2" rx="3.05" ry="2.55"/><ellipse cx="796.1" cy="657.4" rx="3.05" ry="2.55"/><ellipse cx="797" cy="707.3" rx="3.05" ry="2.55"/><ellipse cx="797.9" cy="765.3" rx="3.05" ry="2.55"/><ellipse cx="798.7" cy="774.3" rx="3.05" ry="2.55"/><ellipse cx="799.5" cy="713.4" rx="3.05" ry="2.55"/><ellipse cx="800.4" cy="658.1" rx="3.05" ry="2.55"/><ellipse cx="801.2" cy="613" rx="3.05" ry="2.55"/><ellipse cx="802.1" cy="581.5" rx="3.05" ry="2.55"/><ellipse cx="803" cy="566.3" rx="3.05" ry="2.55"/><ellipse cx="803.8" cy="569" rx="3.05" ry="2.55"/><ellipse cx="804.6" cy="589.5" rx="3.05" ry="2.55"/><ellipse cx="805.5" cy="626.6" rx="3.05" ry="2.55"/><ellipse cx="806.4" cy="677.7" rx="3.05" ry="2.55"/><ellipse cx="807.2" cy="738.9" rx="3.05" ry="2.55"/><ellipse cx="808" cy="795.6" rx="3.05" ry="2.55"/><ellipse cx="808.9" cy="728.2" rx="3.05" ry="2.55"/><ellipse cx="809.8" cy="665.4" rx="3.05" ry="2.55"/><ellipse cx="810.6" cy="612.1" rx="3.05" ry="2.55"/><ellipse cx="811.5" cy="572.7" rx="3.05" ry="2.55"/><ellipse cx="812.3" cy="550.2" rx="3.05" ry="2.55"/><ellipse cx="813.1" cy="546.7" rx="3.05" ry="2.55"/><ellipse cx="814" cy="562.6" rx="3.05" ry="2.55"/><ellipse cx="814.9" cy="597.1" rx="3.05" ry="2.55"/><ellipse cx="815.7" cy="647.5" rx="3.05" ry="2.55"/><ellipse cx="816.5" cy="710.3" rx="3.05" ry="2.55"/><ellipse cx="817.4" cy="780.7" rx="3.05" ry="2.55"/><ellipse cx="818.2" cy="748" rx="3.05" ry="2.55"/><ellipse cx="819.1" cy="678.5" rx="3.05" ry="2.55"/><ellipse cx="820" cy="617.7" rx="3.05" ry="2.55"/><ellipse cx="820.8" cy="570.3" rx="3.05" ry="2.55"/><ellipse cx="821.6" cy="540.1" rx="3.05" ry="2.55"/><ellipse cx="822.5" cy="529.6" rx="3.05" ry="2.55"/><ellipse cx="823.4" cy="539.7" rx="3.05" ry="2.55"/><ellipse cx="824.2" cy="570" rx="3.05" ry="2.55"/><ellipse cx="825" cy="618.1" rx="3.05" ry="2.55"/><ellipse cx="825.9" cy="680.7" rx="3.05" ry="2.55"/><ellipse cx="826.8" cy="753" rx="3.05" ry="2.55"/><ellipse cx="827.6" cy="771.9" rx="3.05" ry="2.55"/><ellipse cx="828.5" cy="697" rx="3.05" ry="2.55"/><ellipse cx="829.3" cy="629.4" rx="3.05" ry="2.55"/><ellipse cx="830.1" cy="574.5" rx="3.05" ry="2.55"/><ellipse cx="831" cy="536.4" rx="3.05" ry="2.55"/><ellipse cx="831.9" cy="518.4" rx="3.05" ry="2.55"/><ellipse cx="832.7" cy="521.8" rx="3.05" ry="2.55"/><ellipse cx="833.5" cy="546.6" rx="3.05" ry="2.55"/><ellipse cx="834.4" cy="590.9" rx="3.05" ry="2.55"/><ellipse cx="835.2" cy="651.6" rx="3.05" ry="2.55"/><ellipse cx="836.1" cy="724" rx="3.05" ry="2.55"/><ellipse cx="837" cy="798.7" rx="3.05" ry="2.55"/><ellipse cx="837.8" cy="719.8" rx="3.05" ry="2.55"/><ellipse cx="838.6" cy="646.6" rx="3.05" ry="2.55"/><ellipse cx="839.5" cy="584.8" rx="3.05" ry="2.55"/><ellipse cx="840.4" cy="539.3" rx="3.05" ry="2.55"/><ellipse cx="841.2" cy="513.5" rx="3.05" ry="2.55"/><ellipse cx="842" cy="509.6" rx="3.05" ry="2.55"/><ellipse cx="842.9" cy="527.9" rx="3.05" ry="2.55"/><ellipse cx="843.8" cy="567" rx="3.05" ry="2.55"/><ellipse cx="844.6" cy="624.2" rx="3.05" ry="2.55"/><ellipse cx="845.5" cy="695.1" rx="3.05" ry="2.55"/><ellipse cx="846.3" cy="774.2" rx="3.05" ry="2.55"/><ellipse cx="847.1" cy="745.8" rx="3.05" ry="2.55"/><ellipse cx="848" cy="668.4" rx="3.05" ry="2.55"/><ellipse cx="848.9" cy="600.9" rx="3.05" ry="2.55"/><ellipse cx="849.7" cy="548.5" rx="3.05" ry="2.55"/><ellipse cx="850.5" cy="515.2" rx="3.05" ry="2.55"/><ellipse cx="851.4" cy="503.6" rx="3.05" ry="2.55"/><ellipse cx="852.2" cy="514.7" rx="3.05" ry="2.55"/><ellipse cx="853.1" cy="547.6" rx="3.05" ry="2.55"/><ellipse cx="854" cy="599.9" rx="3.05" ry="2.55"/><ellipse cx="854.8" cy="667.5" rx="3.05" ry="2.55"/><ellipse cx="855.6" cy="745.4" rx="3.05" ry="2.55"/><ellipse cx="856.5" cy="773.9" rx="3.05" ry="2.55"/><ellipse cx="857.4" cy="693.8" rx="3.05" ry="2.55"/><ellipse cx="858.2" cy="621.8" rx="3.05" ry="2.55"/><ellipse cx="859" cy="563.5" rx="3.05" ry="2.55"/><ellipse cx="859.9" cy="523.3" rx="3.05" ry="2.55"/><ellipse cx="860.8" cy="504.2" rx="3.05" ry="2.55"/><ellipse cx="861.6" cy="507.7" rx="3.05" ry="2.55"/><ellipse cx="862.5" cy="533.5" rx="3.05" ry="2.55"/><ellipse cx="863.3" cy="579.7" rx="3.05" ry="2.55"/><ellipse cx="864.1" cy="642.6" rx="3.05" ry="2.55"/><ellipse cx="865" cy="717.5" rx="3.05" ry="2.55"/><ellipse cx="865.9" cy="798.6" rx="3.05" ry="2.55"/><ellipse cx="866.7" cy="721.6" rx="3.05" ry="2.55"/><ellipse cx="867.5" cy="646.7" rx="3.05" ry="2.55"/><ellipse cx="868.4" cy="583.7" rx="3.05" ry="2.55"/><ellipse cx="869.2" cy="537.4" rx="3.05" ry="2.55"/><ellipse cx="870.1" cy="511.2" rx="3.05" ry="2.55"/><ellipse cx="871" cy="507.1" rx="3.05" ry="2.55"/><ellipse cx="871.8" cy="525.4" rx="3.05" ry="2.55"/><ellipse cx="872.6" cy="564.6" rx="3.05" ry="2.55"/><ellipse cx="873.5" cy="621.6" rx="3.05" ry="2.55"/><ellipse cx="874.4" cy="692" rx="3.05" ry="2.55"/><ellipse cx="875.2" cy="770.5" rx="3.05" ry="2.55"/><ellipse cx="876" cy="750.6" rx="3.05" ry="2.55"/><ellipse cx="876.9" cy="674.4" rx="3.05" ry="2.55"/><ellipse cx="877.8" cy="608.1" rx="3.05" ry="2.55"/><ellipse cx="878.6" cy="556.8" rx="3.05" ry="2.55"/><ellipse cx="879.5" cy="524.4" rx="3.05" ry="2.55"/><ellipse cx="880.3" cy="513.1" rx="3.05" ry="2.55"/><ellipse cx="881.1" cy="523.7" rx="3.05" ry="2.55"/><ellipse cx="882" cy="555.4" rx="3.05" ry="2.55"/><ellipse cx="882.9" cy="605.5" rx="3.05" ry="2.55"/><ellipse cx="883.7" cy="670.1" rx="3.05" ry="2.55"/><ellipse cx="884.5" cy="744.2" rx="3.05" ry="2.55"/><ellipse cx="885.4" cy="779.2" rx="3.05" ry="2.55"/><ellipse cx="886.2" cy="703.5" rx="3.05" ry="2.55"/><ellipse cx="887.1" cy="635.6" rx="3.05" ry="2.55"/><ellipse cx="888" cy="580.8" rx="3.05" ry="2.55"/><ellipse cx="888.8" cy="543.1" rx="3.05" ry="2.55"/><ellipse cx="889.6" cy="525.3" rx="3.05" ry="2.55"/><ellipse cx="890.5" cy="528.5" rx="3.05" ry="2.55"/><ellipse cx="891.4" cy="552.4" rx="3.05" ry="2.55"/><ellipse cx="892.2" cy="594.9" rx="3.05" ry="2.55"/><ellipse cx="893" cy="652.7" rx="3.05" ry="2.55"/><ellipse cx="893.9" cy="721.2" rx="3.05" ry="2.55"/><ellipse cx="894.8" cy="795.1" rx="3.05" ry="2.55"/><ellipse cx="895.6" cy="732.7" rx="3.05" ry="2.55"/><ellipse cx="896.5" cy="665" rx="3.05" ry="2.55"/><ellipse cx="897.3" cy="608.2" rx="3.05" ry="2.55"/><ellipse cx="898.1" cy="566.7" rx="3.05" ry="2.55"/><ellipse cx="899" cy="543.3" rx="3.05" ry="2.55"/><ellipse cx="899.9" cy="539.7" rx="3.05" ry="2.55"/><ellipse cx="900.7" cy="556" rx="3.05" ry="2.55"/><ellipse cx="901.5" cy="590.6" rx="3.05" ry="2.55"/><ellipse cx="902.4" cy="640.8" rx="3.05" ry="2.55"/><ellipse cx="903.2" cy="702.5" rx="3.05" ry="2.55"/><ellipse cx="904.1" cy="770.9" rx="3.05" ry="2.55"/><ellipse cx="905" cy="760.7" rx="3.05" ry="2.55"/><ellipse cx="905.8" cy="694.8" rx="3.05" ry="2.55"/><ellipse cx="906.6" cy="637.8" rx="3.05" ry="2.55"/><ellipse cx="907.5" cy="593.9" rx="3.05" ry="2.55"/><ellipse cx="908.4" cy="566.3" rx="3.05" ry="2.55"/><ellipse cx="909.2" cy="556.8" rx="3.05" ry="2.55"/><ellipse cx="910" cy="566" rx="3.05" ry="2.55"/><ellipse cx="910.9" cy="592.8" rx="3.05" ry="2.55"/><ellipse cx="911.8" cy="634.9" rx="3.05" ry="2.55"/><ellipse cx="912.6" cy="689" rx="3.05" ry="2.55"/><ellipse cx="913.5" cy="750.7" rx="3.05" ry="2.55"/><ellipse cx="914.3" cy="786.2" rx="3.05" ry="2.55"/><ellipse cx="915.1" cy="723.8" rx="3.05" ry="2.55"/><ellipse cx="916" cy="668.3" rx="3.05" ry="2.55"/><ellipse cx="916.9" cy="623.7" rx="3.05" ry="2.55"/><ellipse cx="917.7" cy="593.3" rx="3.05" ry="2.55"/><ellipse cx="918.5" cy="579.2" rx="3.05" ry="2.55"/><ellipse cx="919.4" cy="582" rx="3.05" ry="2.55"/><ellipse cx="920.2" cy="601.4" rx="3.05" ry="2.55"/><ellipse cx="921.1" cy="635.5" rx="3.05" ry="2.55"/><ellipse cx="922" cy="681.4" rx="3.05" ry="2.55"/><ellipse cx="922.8" cy="735.5" rx="3.05" ry="2.55"/><ellipse cx="923.6" cy="793.4" rx="3.05" ry="2.55"/><ellipse cx="924.5" cy="750.7" rx="3.05" ry="2.55"/><ellipse cx="925.4" cy="698.3" rx="3.05" ry="2.55"/><ellipse cx="926.2" cy="654.8" rx="3.05" ry="2.55"/><ellipse cx="927" cy="623.3" rx="3.05" ry="2.55"/><ellipse cx="927.9" cy="605.8" rx="3.05" ry="2.55"/><ellipse cx="928.8" cy="603.5" rx="3.05" ry="2.55"/><ellipse cx="929.6" cy="616.2" rx="3.05" ry="2.55"/><ellipse cx="930.5" cy="642.5" rx="3.05" ry="2.55"/><ellipse cx="931.3" cy="680.1" rx="3.05" ry="2.55"/><ellipse cx="932.1" cy="726" rx="3.05" ry="2.55"/><ellipse cx="933" cy="776.3" rx="3.05" ry="2.55"/><ellipse cx="933.9" cy="774.1" rx="3.05" ry="2.55"/><ellipse cx="934.7" cy="726.5" rx="3.05" ry="2.55"/><ellipse cx="935.5" cy="685.8" rx="3.05" ry="2.55"/><ellipse cx="936.4" cy="654.8" rx="3.05" ry="2.55"/></g>
<rect x="596.4" y="500.5" width="341.5" height="300.5" fill="none" stroke="#000" stroke-width="1.7"/>
<path d="M681.4 801v-4.3M681.4 500.5v4.3M766.4 801v-4.3M766.4 500.5v4.3M851.4 801v-4.3M851.4 500.5v4.3M596.4 740.3h4.3M937.9 740.3h-4.3M596.4 679.9h4.3M937.9 679.9h-4.3M596.4 619.5h4.3M937.9 619.5h-4.3M596.4 559.1h4.3M937.9 559.1h-4.3" stroke="#000" stroke-width="1" fill="none"/>
<text transform="translate(596.4 816) scale(1.1 1)" text-anchor="middle" font-size="15.6" >0</text>
<text transform="translate(681.4 816) scale(1.1 1)" text-anchor="middle" font-size="15.6" >1000</text>
<text transform="translate(766.4 816) scale(1.1 1)" text-anchor="middle" font-size="15.6" >2000</text>
<text transform="translate(851.4 816) scale(1.1 1)" text-anchor="middle" font-size="15.6" >3000</text>
<text transform="translate(936.4 816) scale(1.1 1)" text-anchor="middle" font-size="15.6" >4000</text>
<text transform="translate(592.5 804.3) scale(1.1 1)" text-anchor="end" font-size="15.6" >0</text>
<text transform="translate(592.5 746.5) scale(1.1 1)" text-anchor="end" font-size="15.6" >0.2</text>
<text transform="translate(592.5 686.1) scale(1.1 1)" text-anchor="end" font-size="15.6" >0.4</text>
<text transform="translate(592.5 625.7) scale(1.1 1)" text-anchor="end" font-size="15.6" >0.6</text>
<text transform="translate(592.5 565.3) scale(1.1 1)" text-anchor="end" font-size="15.6" >0.8</text>
<text transform="translate(592.5 506.7) scale(1.1 1)" text-anchor="end" font-size="15.6" >1</text>
<text transform="translate(764 832.6) scale(1.115 1)" text-anchor="middle" font-size="15.6" >Number of frames</text>
<text transform="translate(559.3 650) rotate(-90) scale(1.03 1.155)" text-anchor="middle" font-size="15.6" >Significance value</text>
</svg>
<div class="cap" style="left:223.5px;top:471.5px;">FIGURE 8.<b>Moving target 1 key frame analysis</b></div>
<div class="cap" style="left:571px;top:471.5px;">FIGURE 9.<b>Moving target 2 key frame analysis</b></div>
<div class="cap" style="left:202px;top:838.8px;">FIGURE 10.<b>Moving target 3 key frame analysis</b></div>
<div class="cap" style="left:584px;top:838.8px;">FIGURE 11.<b>Moving target 4 key frame analysis</b></div>
<div class="sec" style="top:899.5px;">C.&nbsp; Comparative analysis with other key frame<br>extraction algorithms</div>
<div class="bl j" style="top:938.8px;left:68px;width:448px;text-indent:18.6px;">First, we extract the key frames of the case video 2.</div>
<div class="bl j" style="top:960.1px;left:68px;width:448px;">According to the algorithm in this paper, when the research</div>
<div class="bl j" style="top:981.4px;left:68px;width:448px;">object is set as the person in the video, the 578th frame is</div>
<div class="bl j" style="top:1002.7px;left:68px;width:448px;">extracted as the key frame image, which means that the</div>
<div class="bl j" style="top:1024px;left:68px;width:448px;">saliency of the moving object is the largest in the whole</div>
<div class="bl j" style="top:1045.3px;left:68px;width:448px;">movement process. According to the optical flow method,</div>
<div class="bl j" style="top:1066.6px;left:68px;width:448px;">the key frame of case video 2 is extracted, and the extracted</div>
<div class="bl j" style="top:1087.9px;left:68px;width:448px;">key frame is the 1184th frame. Comparing and analyzing</div>
<div class="bl j" style="top:1109.2px;left:68px;width:448px;">the extraction results of the two algorithms, the algorithm in</div>
<div class="bl j" style="top:1130.5px;left:68px;width:448px;">this paper can achieve a higher compression rate, and a</div>
<div class="bl j" style="top:875.6px;left:551px;width:449px;">clearer description of the shape of the moving target can be</div>
<div class="bl j" style="top:896.9px;left:551px;width:449px;">achieved with one frame of video. It finds the distance</div>
<div class="bl j" style="top:918.2px;left:551px;width:449px;">between each frame and the cluster center to select the</div>
<div class="bl j" style="top:939.5px;left:551px;width:449px;">closest to each cluster center. The frame with the greatest</div>
<div class="bl j" style="top:960.8px;left:551px;width:449px;">similarity between cluster centers is used as the key frame.</div>
<div class="bl j" style="top:982.1px;left:551px;width:449px;">The video background color changes weakly, resulting in</div>
<div class="bl j" style="top:1003.4px;left:551px;width:449px;">the key frames not being extracted until frame 1324, and</div>
<div class="bl j" style="top:1024.7px;left:551px;width:449px;">the motion trajectory of the moving target and the</div>
<div class="bl j" style="top:1046px;left:551px;width:449px;">morphological characteristics of the moving target cannot</div>
<div class="bl j" style="top:1067.3px;left:551px;width:449px;">be highlighted, and the degree of redundancy is large. The</div>
<div class="bl j" style="top:1088.6px;left:551px;width:449px;">comparison of the results of the three key frame extraction</div>
<div class="bl" style="top:1109.9px;left:551px;width:449px;">methods of case video 2 is shown in Figure 12.</div>
<div class="hd" style="top:1420px;">This work is licensed under a Creative Commons Attribution 4.0 License. For more information, see https://creativecommons.org/licenses/by/4.0/.</div>
</body></html>
